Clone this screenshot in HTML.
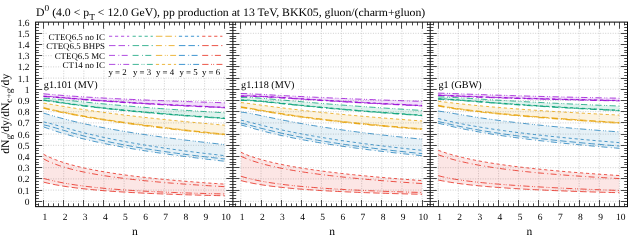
<!DOCTYPE html>
<html><head><meta charset="utf-8"><title>D0 gluon fraction</title>
<style>html,body{margin:0;padding:0;background:#fff}svg{display:block;will-change:transform;-webkit-font-smoothing:antialiased;text-rendering:geometricPrecision}text{font-family:"Liberation Serif",serif;fill:#000}</style></head><body>
<svg width="640" height="240" viewBox="0 0 640 240">
<rect x="0" y="0" width="640" height="240" fill="#ffffff"/>
<g stroke="#bababa" stroke-width="0.7" stroke-dasharray="1 1.5" fill="none">
<path d="M35.6 201.3H232.9"/>
<path d="M35.6 190.1H232.9"/>
<path d="M35.6 178.9H232.9"/>
<path d="M35.6 167.7H232.9"/>
<path d="M35.6 156.5H232.9"/>
<path d="M35.6 145.3H232.9"/>
<path d="M35.6 134.1H232.9"/>
<path d="M35.6 122.9H232.9"/>
<path d="M35.6 111.7H232.9"/>
<path d="M35.6 100.5H232.9"/>
<path d="M35.6 89.3H232.9"/>
<path d="M35.6 78.1H232.9"/>
<path d="M35.6 66.9H232.9"/>
<path d="M35.6 55.7H232.9"/>
<path d="M35.6 44.5H232.9"/>
<path d="M35.6 33.3H232.9"/>
<path d="M43.6 206.65V22.1"/>
<path d="M63.73 206.65V22.1"/>
<path d="M83.86 206.65V22.1"/>
<path d="M103.99 206.65V22.1"/>
<path d="M124.12 206.65V22.1"/>
<path d="M144.25 206.65V22.1"/>
<path d="M164.38 206.65V22.1"/>
<path d="M184.51 206.65V22.1"/>
<path d="M204.64 206.65V22.1"/>
<path d="M224.77 206.65V22.1"/>
<path d="M232.9 201.3H430.2"/>
<path d="M232.9 190.1H430.2"/>
<path d="M232.9 178.9H430.2"/>
<path d="M232.9 167.7H430.2"/>
<path d="M232.9 156.5H430.2"/>
<path d="M232.9 145.3H430.2"/>
<path d="M232.9 134.1H430.2"/>
<path d="M232.9 122.9H430.2"/>
<path d="M232.9 111.7H430.2"/>
<path d="M232.9 100.5H430.2"/>
<path d="M232.9 89.3H430.2"/>
<path d="M232.9 78.1H430.2"/>
<path d="M232.9 66.9H430.2"/>
<path d="M232.9 55.7H430.2"/>
<path d="M232.9 44.5H430.2"/>
<path d="M232.9 33.3H430.2"/>
<path d="M240.9 206.65V22.1"/>
<path d="M261.03 206.65V22.1"/>
<path d="M281.16 206.65V22.1"/>
<path d="M301.29 206.65V22.1"/>
<path d="M321.42 206.65V22.1"/>
<path d="M341.55 206.65V22.1"/>
<path d="M361.68 206.65V22.1"/>
<path d="M381.81 206.65V22.1"/>
<path d="M401.94 206.65V22.1"/>
<path d="M422.07 206.65V22.1"/>
<path d="M430.2 201.3H627.5"/>
<path d="M430.2 190.1H627.5"/>
<path d="M430.2 178.9H627.5"/>
<path d="M430.2 167.7H627.5"/>
<path d="M430.2 156.5H627.5"/>
<path d="M430.2 145.3H627.5"/>
<path d="M430.2 134.1H627.5"/>
<path d="M430.2 122.9H627.5"/>
<path d="M430.2 111.7H627.5"/>
<path d="M430.2 100.5H627.5"/>
<path d="M430.2 89.3H627.5"/>
<path d="M430.2 78.1H627.5"/>
<path d="M430.2 66.9H627.5"/>
<path d="M430.2 55.7H627.5"/>
<path d="M430.2 44.5H627.5"/>
<path d="M430.2 33.3H627.5"/>
<path d="M438.2 206.65V22.1"/>
<path d="M458.33 206.65V22.1"/>
<path d="M478.46 206.65V22.1"/>
<path d="M498.59 206.65V22.1"/>
<path d="M518.72 206.65V22.1"/>
<path d="M538.85 206.65V22.1"/>
<path d="M558.98 206.65V22.1"/>
<path d="M579.11 206.65V22.1"/>
<path d="M599.24 206.65V22.1"/>
<path d="M619.37 206.65V22.1"/>
</g>
<g fill="#ffffff" stroke="none">
<rect x="47.3" y="31.2" width="184.2" height="10"/>
<rect x="45" y="41" width="186.5" height="9.6"/>
<rect x="53" y="50.4" width="178.5" height="9.8"/>
<rect x="61" y="60" width="170.5" height="9.3"/>
<rect x="107.3" y="69.1" width="115.2" height="8.1"/>
<rect x="43" y="80" width="56" height="12.3"/>
<rect x="240.3" y="80" width="56" height="12.3"/>
<rect x="437.6" y="80" width="44" height="12.3"/>
</g>
<polygon points="43.6,93.79 47.63,94.16 51.65,94.51 55.68,94.85 59.7,95.18 63.73,95.5 67.76,95.8 71.78,96.09 75.81,96.37 79.83,96.64 83.86,96.9 87.89,97.15 91.91,97.39 95.94,97.62 99.96,97.85 103.99,98.07 108.02,98.28 112.04,98.49 116.07,98.69 120.09,98.88 124.12,99.07 128.15,99.26 132.17,99.44 136.2,99.62 140.22,99.79 144.25,99.96 148.28,100.13 152.3,100.29 156.33,100.45 160.35,100.61 164.38,100.76 168.41,100.91 172.43,101.06 176.46,101.21 180.48,101.35 184.51,101.49 188.54,101.63 192.56,101.76 196.59,101.9 200.61,102.03 204.64,102.16 208.67,102.28 212.69,102.41 216.72,102.53 220.74,102.65 224.77,102.77 224.77,107.82 220.74,107.64 216.72,107.46 212.69,107.28 208.67,107.1 204.64,106.92 200.61,106.73 196.59,106.54 192.56,106.34 188.54,106.15 184.51,105.95 180.48,105.75 176.46,105.54 172.43,105.34 168.41,105.12 164.38,104.91 160.35,104.69 156.33,104.47 152.3,104.25 148.28,104.02 144.25,103.79 140.22,103.55 136.2,103.31 132.17,103.07 128.15,102.82 124.12,102.56 120.09,102.31 116.07,102.04 112.04,101.77 108.02,101.5 103.99,101.22 99.96,100.94 95.94,100.64 91.91,100.35 87.89,100.05 83.86,99.74 79.83,99.42 75.81,99.11 71.78,98.78 67.76,98.46 63.73,98.13 59.7,97.8 55.68,97.48 51.65,97.18 47.63,96.9 43.6,96.67" fill="#9400d3" fill-opacity="0.12" stroke="none"/>
<polygon points="43.6,98.26 47.63,98.48 51.65,98.79 55.68,99.15 59.7,99.53 63.73,99.94 67.76,100.35 71.78,100.76 75.81,101.18 79.83,101.59 83.86,101.99 87.89,102.39 91.91,102.79 95.94,103.18 99.96,103.56 103.99,103.93 108.02,104.3 112.04,104.67 116.07,105.02 120.09,105.37 124.12,105.72 128.15,106.05 132.17,106.39 136.2,106.71 140.22,107.03 144.25,107.35 148.28,107.66 152.3,107.97 156.33,108.27 160.35,108.56 164.38,108.86 168.41,109.14 172.43,109.43 176.46,109.71 180.48,109.98 184.51,110.26 188.54,110.52 192.56,110.79 196.59,111.05 200.61,111.31 204.64,111.56 208.67,111.81 212.69,112.06 216.72,112.3 220.74,112.55 224.77,112.78 224.77,118.63 220.74,118.36 216.72,118.09 212.69,117.82 208.67,117.54 204.64,117.26 200.61,116.97 196.59,116.68 192.56,116.39 188.54,116.09 184.51,115.79 180.48,115.48 176.46,115.17 172.43,114.85 168.41,114.53 164.38,114.2 160.35,113.86 156.33,113.52 152.3,113.18 148.28,112.83 144.25,112.47 140.22,112.1 136.2,111.73 132.17,111.35 128.15,110.96 124.12,110.56 120.09,110.16 116.07,109.74 112.04,109.32 108.02,108.89 103.99,108.44 99.96,107.99 95.94,107.52 91.91,107.05 87.89,106.56 83.86,106.05 79.83,105.54 75.81,105.01 71.78,104.47 67.76,103.91 63.73,103.34 59.7,102.76 55.68,102.18 51.65,101.59 47.63,101.02 43.6,100.49" fill="#009e73" fill-opacity="0.12" stroke="none"/>
<polygon points="43.6,103.09 47.63,103.75 51.65,104.42 55.68,105.11 59.7,105.78 63.73,106.45 67.76,107.11 71.78,107.76 75.81,108.39 79.83,109 83.86,109.61 87.89,110.2 91.91,110.78 95.94,111.35 99.96,111.9 103.99,112.44 108.02,112.98 112.04,113.5 116.07,114.01 120.09,114.52 124.12,115.01 128.15,115.49 132.17,115.97 136.2,116.44 140.22,116.9 144.25,117.35 148.28,117.8 152.3,118.24 156.33,118.67 160.35,119.1 164.38,119.52 168.41,119.93 172.43,120.34 176.46,120.74 180.48,121.14 184.51,121.53 188.54,121.92 192.56,122.3 196.59,122.68 200.61,123.05 204.64,123.42 208.67,123.78 212.69,124.14 216.72,124.5 220.74,124.85 224.77,125.19 224.77,134.89 220.74,134.49 216.72,134.08 212.69,133.67 208.67,133.25 204.64,132.83 200.61,132.4 196.59,131.97 192.56,131.54 188.54,131.09 184.51,130.65 180.48,130.19 176.46,129.73 172.43,129.27 168.41,128.79 164.38,128.31 160.35,127.83 156.33,127.33 152.3,126.83 148.28,126.33 144.25,125.81 140.22,125.28 136.2,124.75 132.17,124.21 128.15,123.65 124.12,123.09 120.09,122.52 116.07,121.93 112.04,121.34 108.02,120.73 103.99,120.11 99.96,119.47 95.94,118.82 91.91,118.16 87.89,117.48 83.86,116.78 79.83,116.06 75.81,115.32 71.78,114.55 67.76,113.77 63.73,112.95 59.7,112.11 55.68,111.23 51.65,110.31 47.63,109.35 43.6,108.34" fill="#e69f00" fill-opacity="0.12" stroke="none"/>
<polygon points="43.6,113.13 47.63,114.32 51.65,115.5 55.68,116.65 59.7,117.76 63.73,118.84 67.76,119.87 71.78,120.87 75.81,121.84 79.83,122.77 83.86,123.67 87.89,124.55 91.91,125.39 95.94,126.21 99.96,127.01 103.99,127.78 108.02,128.53 112.04,129.26 116.07,129.97 120.09,130.67 124.12,131.35 128.15,132.01 132.17,132.66 136.2,133.29 140.22,133.91 144.25,134.51 148.28,135.11 152.3,135.69 156.33,136.26 160.35,136.82 164.38,137.37 168.41,137.91 172.43,138.43 176.46,138.95 180.48,139.47 184.51,139.97 188.54,140.46 192.56,140.95 196.59,141.43 200.61,141.9 204.64,142.36 208.67,142.82 212.69,143.27 216.72,143.71 220.74,144.15 224.77,144.58 224.77,161.27 220.74,160.82 216.72,160.37 212.69,159.9 208.67,159.43 204.64,158.96 200.61,158.47 196.59,157.98 192.56,157.48 188.54,156.97 184.51,156.45 180.48,155.93 176.46,155.39 172.43,154.84 168.41,154.29 164.38,153.72 160.35,153.14 156.33,152.55 152.3,151.95 148.28,151.33 144.25,150.7 140.22,150.06 136.2,149.4 132.17,148.73 128.15,148.03 124.12,147.33 120.09,146.6 116.07,145.85 112.04,145.08 108.02,144.3 103.99,143.48 99.96,142.64 95.94,141.78 91.91,140.88 87.89,139.96 83.86,139 79.83,138.01 75.81,136.97 71.78,135.9 67.76,134.78 63.73,133.61 59.7,132.39 55.68,131.11 51.65,129.78 47.63,128.39 43.6,126.96" fill="#167ab8" fill-opacity="0.105" stroke="none"/>
<polygon points="43.6,154.36 47.63,156.38 51.65,158.18 55.68,159.79 59.7,161.25 63.73,162.59 67.76,163.82 71.78,164.95 75.81,166.01 79.83,166.99 83.86,167.92 87.89,168.79 91.91,169.6 95.94,170.38 99.96,171.11 103.99,171.81 108.02,172.48 112.04,173.11 116.07,173.72 120.09,174.3 124.12,174.86 128.15,175.39 132.17,175.91 136.2,176.4 140.22,176.88 144.25,177.34 148.28,177.78 152.3,178.21 156.33,178.63 160.35,179.03 164.38,179.42 168.41,179.79 172.43,180.16 176.46,180.52 180.48,180.86 184.51,181.2 188.54,181.53 192.56,181.84 196.59,182.15 200.61,182.46 204.64,182.75 208.67,183.04 212.69,183.32 216.72,183.59 220.74,183.86 224.77,184.12 224.77,195.77 220.74,195.68 216.72,195.59 212.69,195.5 208.67,195.4 204.64,195.3 200.61,195.19 196.59,195.08 192.56,194.97 188.54,194.85 184.51,194.73 180.48,194.6 176.46,194.46 172.43,194.33 168.41,194.18 164.38,194.03 160.35,193.87 156.33,193.71 152.3,193.54 148.28,193.36 144.25,193.17 140.22,192.97 136.2,192.77 132.17,192.55 128.15,192.33 124.12,192.09 120.09,191.84 116.07,191.58 112.04,191.3 108.02,191.01 103.99,190.7 99.96,190.37 95.94,190.02 91.91,189.65 87.89,189.26 83.86,188.83 79.83,188.38 75.81,187.9 71.78,187.38 67.76,186.81 63.73,186.2 59.7,185.53 55.68,184.81 51.65,184.01 47.63,183.13 43.6,182.17" fill="#e51e10" fill-opacity="0.11" stroke="none"/>
<g stroke="#9400d3" stroke-width="0.75" fill="none">
<polyline points="43.6,93.79 47.63,94.16 51.65,94.51 55.68,94.85 59.7,95.18 63.73,95.5 67.76,95.8 71.78,96.09 75.81,96.37 79.83,96.64 83.86,96.9 87.89,97.15 91.91,97.39 95.94,97.62 99.96,97.85 103.99,98.07 108.02,98.28 112.04,98.49 116.07,98.69 120.09,98.88 124.12,99.07 128.15,99.26 132.17,99.44 136.2,99.62 140.22,99.79 144.25,99.96 148.28,100.13 152.3,100.29 156.33,100.45 160.35,100.61 164.38,100.76 168.41,100.91 172.43,101.06 176.46,101.21 180.48,101.35 184.51,101.49 188.54,101.63 192.56,101.76 196.59,101.9 200.61,102.03 204.64,102.16 208.67,102.28 212.69,102.41 216.72,102.53 220.74,102.65 224.77,102.77" stroke-dasharray="6.3 2.6 0.9 1.2 0.9 2.4"/>
<polyline points="43.6,96.11 47.63,96.34 51.65,96.62 55.68,96.92 59.7,97.24 63.73,97.57 67.76,97.9 71.78,98.22 75.81,98.55 79.83,98.86 83.86,99.18 87.89,99.49 91.91,99.79 95.94,100.08 99.96,100.38 103.99,100.66 108.02,100.94 112.04,101.21 116.07,101.48 120.09,101.75 124.12,102 128.15,102.26 132.17,102.51 136.2,102.75 140.22,102.99 144.25,103.23 148.28,103.46 152.3,103.69 156.33,103.91 160.35,104.13 164.38,104.35 168.41,104.56 172.43,104.78 176.46,104.98 180.48,105.19 184.51,105.39 188.54,105.59 192.56,105.78 196.59,105.98 200.61,106.17 204.64,106.36 208.67,106.54 212.69,106.72 216.72,106.9 220.74,107.08 224.77,107.26" stroke-dasharray="3.2 2.8"/>
<polyline points="43.6,96.39 47.63,96.62 51.65,96.9 55.68,97.2 59.7,97.52 63.73,97.85 67.76,98.18 71.78,98.5 75.81,98.83 79.83,99.14 83.86,99.46 87.89,99.77 91.91,100.07 95.94,100.36 99.96,100.66 103.99,100.94 108.02,101.22 112.04,101.49 116.07,101.76 120.09,102.03 124.12,102.28 128.15,102.54 132.17,102.79 136.2,103.03 140.22,103.27 144.25,103.51 148.28,103.74 152.3,103.97 156.33,104.19 160.35,104.41 164.38,104.63 168.41,104.84 172.43,105.06 176.46,105.26 180.48,105.47 184.51,105.67 188.54,105.87 192.56,106.06 196.59,106.26 200.61,106.45 204.64,106.64 208.67,106.82 212.69,107 216.72,107.18 220.74,107.36 224.77,107.54" stroke-dasharray="6.5 3"/>
<polyline points="43.6,96.67 47.63,96.9 51.65,97.18 55.68,97.48 59.7,97.8 63.73,98.13 67.76,98.46 71.78,98.78 75.81,99.11 79.83,99.42 83.86,99.74 87.89,100.05 91.91,100.35 95.94,100.64 99.96,100.94 103.99,101.22 108.02,101.5 112.04,101.77 116.07,102.04 120.09,102.31 124.12,102.56 128.15,102.82 132.17,103.07 136.2,103.31 140.22,103.55 144.25,103.79 148.28,104.02 152.3,104.25 156.33,104.47 160.35,104.69 164.38,104.91 168.41,105.12 172.43,105.34 176.46,105.54 180.48,105.75 184.51,105.95 188.54,106.15 192.56,106.34 196.59,106.54 200.61,106.73 204.64,106.92 208.67,107.1 212.69,107.28 216.72,107.46 220.74,107.64 224.77,107.82" stroke-dasharray="6 3.4 0.9 2.4"/>
</g>
<g stroke="#009e73" stroke-width="0.75" fill="none">
<polyline points="43.6,98.26 47.63,98.48 51.65,98.79 55.68,99.15 59.7,99.53 63.73,99.94 67.76,100.35 71.78,100.76 75.81,101.18 79.83,101.59 83.86,101.99 87.89,102.39 91.91,102.79 95.94,103.18 99.96,103.56 103.99,103.93 108.02,104.3 112.04,104.67 116.07,105.02 120.09,105.37 124.12,105.72 128.15,106.05 132.17,106.39 136.2,106.71 140.22,107.03 144.25,107.35 148.28,107.66 152.3,107.97 156.33,108.27 160.35,108.56 164.38,108.86 168.41,109.14 172.43,109.43 176.46,109.71 180.48,109.98 184.51,110.26 188.54,110.52 192.56,110.79 196.59,111.05 200.61,111.31 204.64,111.56 208.67,111.81 212.69,112.06 216.72,112.3 220.74,112.55 224.77,112.78" stroke-dasharray="6.3 2.6 0.9 1.2 0.9 2.4"/>
<polyline points="43.6,99.93 47.63,100.46 51.65,101.03 55.68,101.62 59.7,102.2 63.73,102.78 67.76,103.35 71.78,103.91 75.81,104.45 79.83,104.98 83.86,105.49 87.89,106 91.91,106.49 95.94,106.96 99.96,107.43 103.99,107.88 108.02,108.33 112.04,108.76 116.07,109.18 120.09,109.6 124.12,110 128.15,110.4 132.17,110.79 136.2,111.17 140.22,111.54 144.25,111.91 148.28,112.27 152.3,112.62 156.33,112.96 160.35,113.3 164.38,113.64 168.41,113.97 172.43,114.29 176.46,114.61 180.48,114.92 184.51,115.23 188.54,115.53 192.56,115.83 196.59,116.12 200.61,116.41 204.64,116.7 208.67,116.98 212.69,117.26 216.72,117.53 220.74,117.8 224.77,118.07" stroke-dasharray="3.2 2.8"/>
<polyline points="43.6,100.21 47.63,100.74 51.65,101.31 55.68,101.9 59.7,102.48 63.73,103.06 67.76,103.63 71.78,104.19 75.81,104.73 79.83,105.26 83.86,105.77 87.89,106.28 91.91,106.77 95.94,107.24 99.96,107.71 103.99,108.16 108.02,108.61 112.04,109.04 116.07,109.46 120.09,109.88 124.12,110.28 128.15,110.68 132.17,111.07 136.2,111.45 140.22,111.82 144.25,112.19 148.28,112.55 152.3,112.9 156.33,113.24 160.35,113.58 164.38,113.92 168.41,114.25 172.43,114.57 176.46,114.89 180.48,115.2 184.51,115.51 188.54,115.81 192.56,116.11 196.59,116.4 200.61,116.69 204.64,116.98 208.67,117.26 212.69,117.54 216.72,117.81 220.74,118.08 224.77,118.35" stroke-dasharray="6.5 3"/>
<polyline points="43.6,100.49 47.63,101.02 51.65,101.59 55.68,102.18 59.7,102.76 63.73,103.34 67.76,103.91 71.78,104.47 75.81,105.01 79.83,105.54 83.86,106.05 87.89,106.56 91.91,107.05 95.94,107.52 99.96,107.99 103.99,108.44 108.02,108.89 112.04,109.32 116.07,109.74 120.09,110.16 124.12,110.56 128.15,110.96 132.17,111.35 136.2,111.73 140.22,112.1 144.25,112.47 148.28,112.83 152.3,113.18 156.33,113.52 160.35,113.86 164.38,114.2 168.41,114.53 172.43,114.85 176.46,115.17 180.48,115.48 184.51,115.79 188.54,116.09 192.56,116.39 196.59,116.68 200.61,116.97 204.64,117.26 208.67,117.54 212.69,117.82 216.72,118.09 220.74,118.36 224.77,118.63" stroke-dasharray="6 3.4 0.9 2.4"/>
</g>
<g stroke="#e69f00" stroke-width="0.75" fill="none">
<polyline points="43.6,103.09 47.63,103.75 51.65,104.42 55.68,105.11 59.7,105.78 63.73,106.45 67.76,107.11 71.78,107.76 75.81,108.39 79.83,109 83.86,109.61 87.89,110.2 91.91,110.78 95.94,111.35 99.96,111.9 103.99,112.44 108.02,112.98 112.04,113.5 116.07,114.01 120.09,114.52 124.12,115.01 128.15,115.49 132.17,115.97 136.2,116.44 140.22,116.9 144.25,117.35 148.28,117.8 152.3,118.24 156.33,118.67 160.35,119.1 164.38,119.52 168.41,119.93 172.43,120.34 176.46,120.74 180.48,121.14 184.51,121.53 188.54,121.92 192.56,122.3 196.59,122.68 200.61,123.05 204.64,123.42 208.67,123.78 212.69,124.14 216.72,124.5 220.74,124.85 224.77,125.19" stroke-dasharray="3.2 2.8"/>
<polyline points="43.6,107.55 47.63,108.57 51.65,109.53 55.68,110.45 59.7,111.32 63.73,112.17 67.76,112.98 71.78,113.77 75.81,114.53 79.83,115.27 83.86,115.99 87.89,116.69 91.91,117.37 95.94,118.04 99.96,118.69 103.99,119.33 108.02,119.95 112.04,120.55 116.07,121.15 120.09,121.73 124.12,122.31 128.15,122.87 132.17,123.42 136.2,123.97 140.22,124.5 144.25,125.02 148.28,125.54 152.3,126.05 156.33,126.55 160.35,127.04 164.38,127.53 168.41,128.01 172.43,128.48 176.46,128.95 180.48,129.41 184.51,129.86 188.54,130.31 192.56,130.75 196.59,131.19 200.61,131.62 204.64,132.05 208.67,132.47 212.69,132.89 216.72,133.3 220.74,133.71 224.77,134.11" stroke-dasharray="6.5 3"/>
<polyline points="43.6,107.95 47.63,108.96 51.65,109.92 55.68,110.84 59.7,111.72 63.73,112.56 67.76,113.37 71.78,114.16 75.81,114.92 79.83,115.66 83.86,116.38 87.89,117.08 91.91,117.77 95.94,118.43 99.96,119.08 103.99,119.72 108.02,120.34 112.04,120.95 116.07,121.54 120.09,122.13 124.12,122.7 128.15,123.26 132.17,123.82 136.2,124.36 140.22,124.89 144.25,125.42 148.28,125.93 152.3,126.44 156.33,126.94 160.35,127.44 164.38,127.92 168.41,128.4 172.43,128.87 176.46,129.34 180.48,129.8 184.51,130.25 188.54,130.7 192.56,131.14 196.59,131.58 200.61,132.01 204.64,132.44 208.67,132.86 212.69,133.28 216.72,133.69 220.74,134.1 224.77,134.5" stroke-dasharray="6 3.4 0.9 2.4"/>
<polyline points="43.6,108.34 47.63,109.35 51.65,110.31 55.68,111.23 59.7,112.11 63.73,112.95 67.76,113.77 71.78,114.55 75.81,115.32 79.83,116.06 83.86,116.78 87.89,117.48 91.91,118.16 95.94,118.82 99.96,119.47 103.99,120.11 108.02,120.73 112.04,121.34 116.07,121.93 120.09,122.52 124.12,123.09 128.15,123.65 132.17,124.21 136.2,124.75 140.22,125.28 144.25,125.81 148.28,126.33 152.3,126.83 156.33,127.33 160.35,127.83 164.38,128.31 168.41,128.79 172.43,129.27 176.46,129.73 180.48,130.19 184.51,130.65 188.54,131.09 192.56,131.54 196.59,131.97 200.61,132.4 204.64,132.83 208.67,133.25 212.69,133.67 216.72,134.08 220.74,134.49 224.77,134.89" stroke-dasharray="6.3 2.6 0.9 1.2 0.9 2.4"/>
</g>
<g stroke="#167ab8" stroke-width="0.75" fill="none">
<polyline points="43.6,113.13 47.63,114.32 51.65,115.5 55.68,116.65 59.7,117.76 63.73,118.84 67.76,119.87 71.78,120.87 75.81,121.84 79.83,122.77 83.86,123.67 87.89,124.55 91.91,125.39 95.94,126.21 99.96,127.01 103.99,127.78 108.02,128.53 112.04,129.26 116.07,129.97 120.09,130.67 124.12,131.35 128.15,132.01 132.17,132.66 136.2,133.29 140.22,133.91 144.25,134.51 148.28,135.11 152.3,135.69 156.33,136.26 160.35,136.82 164.38,137.37 168.41,137.91 172.43,138.43 176.46,138.95 180.48,139.47 184.51,139.97 188.54,140.46 192.56,140.95 196.59,141.43 200.61,141.9 204.64,142.36 208.67,142.82 212.69,143.27 216.72,143.71 220.74,144.15 224.77,144.58" stroke-dasharray="6.3 2.6 0.9 1.2 0.9 2.4"/>
<polyline points="43.6,121.92 47.63,122.81 51.65,123.88 55.68,125.01 59.7,126.18 63.73,127.33 67.76,128.47 71.78,129.59 75.81,130.68 79.83,131.73 83.86,132.76 87.89,133.75 91.91,134.71 95.94,135.65 99.96,136.55 103.99,137.43 108.02,138.28 112.04,139.11 116.07,139.91 120.09,140.69 124.12,141.45 128.15,142.19 132.17,142.91 136.2,143.61 140.22,144.3 144.25,144.96 148.28,145.62 152.3,146.25 156.33,146.87 160.35,147.48 164.38,148.07 168.41,148.65 172.43,149.22 176.46,149.77 180.48,150.32 184.51,150.85 188.54,151.37 192.56,151.89 196.59,152.39 200.61,152.88 204.64,153.36 208.67,153.84 212.69,154.31 216.72,154.76 220.74,155.21 224.77,155.66" stroke-dasharray="3.2 2.8"/>
<polyline points="43.6,124.85 47.63,125.71 51.65,126.78 55.68,127.95 59.7,129.15 63.73,130.35 67.76,131.54 71.78,132.7 75.81,133.82 79.83,134.92 83.86,135.98 87.89,137.01 91.91,138 95.94,138.96 99.96,139.89 103.99,140.79 108.02,141.67 112.04,142.51 116.07,143.33 120.09,144.12 124.12,144.89 128.15,145.64 132.17,146.37 136.2,147.08 140.22,147.77 144.25,148.44 148.28,149.09 152.3,149.72 156.33,150.34 160.35,150.95 164.38,151.54 168.41,152.11 172.43,152.67 176.46,153.22 180.48,153.76 184.51,154.28 188.54,154.8 192.56,155.3 196.59,155.79 200.61,156.27 204.64,156.74 208.67,157.21 212.69,157.66 216.72,158.1 220.74,158.54 224.77,158.97" stroke-dasharray="6.5 3"/>
<polyline points="43.6,126.96 47.63,128.39 51.65,129.78 55.68,131.11 59.7,132.39 63.73,133.61 67.76,134.78 71.78,135.9 75.81,136.97 79.83,138.01 83.86,139 87.89,139.96 91.91,140.88 95.94,141.78 99.96,142.64 103.99,143.48 108.02,144.3 112.04,145.08 116.07,145.85 120.09,146.6 124.12,147.33 128.15,148.03 132.17,148.73 136.2,149.4 140.22,150.06 144.25,150.7 148.28,151.33 152.3,151.95 156.33,152.55 160.35,153.14 164.38,153.72 168.41,154.29 172.43,154.84 176.46,155.39 180.48,155.93 184.51,156.45 188.54,156.97 192.56,157.48 196.59,157.98 200.61,158.47 204.64,158.96 208.67,159.43 212.69,159.9 216.72,160.37 220.74,160.82 224.77,161.27" stroke-dasharray="6 3.4 0.9 2.4"/>
</g>
<g stroke="#e51e10" stroke-width="0.75" fill="none">
<polyline points="43.6,154.36 47.63,156.38 51.65,158.18 55.68,159.79 59.7,161.25 63.73,162.59 67.76,163.82 71.78,164.95 75.81,166.01 79.83,166.99 83.86,167.92 87.89,168.79 91.91,169.6 95.94,170.38 99.96,171.11 103.99,171.81 108.02,172.48 112.04,173.11 116.07,173.72 120.09,174.3 124.12,174.86 128.15,175.39 132.17,175.91 136.2,176.4 140.22,176.88 144.25,177.34 148.28,177.78 152.3,178.21 156.33,178.63 160.35,179.03 164.38,179.42 168.41,179.79 172.43,180.16 176.46,180.52 180.48,180.86 184.51,181.2 188.54,181.53 192.56,181.84 196.59,182.15 200.61,182.46 204.64,182.75 208.67,183.04 212.69,183.32 216.72,183.59 220.74,183.86 224.77,184.12" stroke-dasharray="3.2 2.8"/>
<polyline points="43.6,158.95 47.63,160.98 51.65,162.75 55.68,164.33 59.7,165.74 63.73,167.02 67.76,168.19 71.78,169.27 75.81,170.26 79.83,171.18 83.86,172.05 87.89,172.85 91.91,173.61 95.94,174.33 99.96,175.01 103.99,175.65 108.02,176.26 112.04,176.84 116.07,177.39 120.09,177.92 124.12,178.42 128.15,178.91 132.17,179.37 136.2,179.82 140.22,180.25 144.25,180.66 148.28,181.06 152.3,181.45 156.33,181.82 160.35,182.18 164.38,182.52 168.41,182.86 172.43,183.19 176.46,183.5 180.48,183.81 184.51,184.11 188.54,184.4 192.56,184.68 196.59,184.95 200.61,185.22 204.64,185.47 208.67,185.73 212.69,185.97 216.72,186.21 220.74,186.45 224.77,186.67" stroke-dasharray="6 3.4 0.9 2.4"/>
<polyline points="43.6,178.48 47.63,179.51 51.65,180.49 55.68,181.39 59.7,182.23 63.73,183 67.76,183.71 71.78,184.37 75.81,184.99 79.83,185.56 83.86,186.09 87.89,186.59 91.91,187.05 95.94,187.49 99.96,187.9 103.99,188.28 108.02,188.65 112.04,188.99 116.07,189.31 120.09,189.62 124.12,189.91 128.15,190.18 132.17,190.44 136.2,190.69 140.22,190.92 144.25,191.15 148.28,191.36 152.3,191.56 156.33,191.75 160.35,191.94 164.38,192.11 168.41,192.28 172.43,192.44 176.46,192.59 180.48,192.74 184.51,192.88 188.54,193.01 192.56,193.14 196.59,193.26 200.61,193.37 204.64,193.48 208.67,193.59 212.69,193.69 216.72,193.79 220.74,193.88 224.77,193.97" stroke-dasharray="6.3 2.6 0.9 1.2 0.9 2.4"/>
<polyline points="43.6,182.17 47.63,183.13 51.65,184.01 55.68,184.81 59.7,185.53 63.73,186.2 67.76,186.81 71.78,187.38 75.81,187.9 79.83,188.38 83.86,188.83 87.89,189.26 91.91,189.65 95.94,190.02 99.96,190.37 103.99,190.7 108.02,191.01 112.04,191.3 116.07,191.58 120.09,191.84 124.12,192.09 128.15,192.33 132.17,192.55 136.2,192.77 140.22,192.97 144.25,193.17 148.28,193.36 152.3,193.54 156.33,193.71 160.35,193.87 164.38,194.03 168.41,194.18 172.43,194.33 176.46,194.46 180.48,194.6 184.51,194.73 188.54,194.85 192.56,194.97 196.59,195.08 200.61,195.19 204.64,195.3 208.67,195.4 212.69,195.5 216.72,195.59 220.74,195.68 224.77,195.77" stroke-dasharray="6.5 3"/>
</g>
<polygon points="240.9,93.49 244.93,93.6 248.95,93.77 252.98,93.96 257,94.17 261.03,94.39 265.06,94.61 269.08,94.83 273.11,95.06 277.13,95.28 281.16,95.5 285.19,95.72 289.21,95.93 293.24,96.14 297.26,96.35 301.29,96.55 305.32,96.75 309.34,96.95 313.37,97.14 317.39,97.33 321.42,97.52 325.45,97.7 329.47,97.88 333.5,98.06 337.52,98.24 341.55,98.41 345.58,98.58 349.6,98.74 353.63,98.91 357.65,99.07 361.68,99.23 365.71,99.38 369.73,99.54 373.76,99.69 377.78,99.84 381.81,99.99 385.84,100.13 389.86,100.28 393.89,100.42 397.91,100.56 401.94,100.7 405.97,100.83 409.99,100.97 414.02,101.1 418.04,101.23 422.07,101.36 422.07,105.97 418.04,105.78 414.02,105.59 409.99,105.39 405.97,105.2 401.94,105 397.91,104.8 393.89,104.59 389.86,104.39 385.84,104.18 381.81,103.97 377.78,103.76 373.76,103.55 369.73,103.33 365.71,103.11 361.68,102.89 357.65,102.67 353.63,102.44 349.6,102.21 345.58,101.98 341.55,101.74 337.52,101.5 333.5,101.26 329.47,101.02 325.45,100.77 321.42,100.53 317.39,100.27 313.37,100.02 309.34,99.77 305.32,99.51 301.29,99.25 297.26,98.99 293.24,98.72 289.21,98.46 285.19,98.2 281.16,97.94 277.13,97.68 273.11,97.43 269.08,97.19 265.06,96.96 261.03,96.75 257,96.56 252.98,96.41 248.95,96.33 244.93,96.33 240.9,96.47" fill="#9400d3" fill-opacity="0.12" stroke="none"/>
<polygon points="240.9,97.47 244.93,97.41 248.95,97.51 252.98,97.7 257,97.95 261.03,98.24 265.06,98.56 269.08,98.89 273.11,99.24 277.13,99.59 281.16,99.95 285.19,100.3 289.21,100.66 293.24,101.01 297.26,101.37 301.29,101.71 305.32,102.06 309.34,102.4 313.37,102.74 317.39,103.08 321.42,103.41 325.45,103.73 329.47,104.06 333.5,104.37 337.52,104.69 341.55,105 345.58,105.3 349.6,105.6 353.63,105.9 357.65,106.2 361.68,106.49 365.71,106.77 369.73,107.06 373.76,107.34 377.78,107.61 381.81,107.89 385.84,108.15 389.86,108.42 393.89,108.68 397.91,108.94 401.94,109.2 405.97,109.46 409.99,109.71 414.02,109.96 418.04,110.2 422.07,110.45 422.07,115.7 418.04,115.43 414.02,115.15 409.99,114.87 405.97,114.58 401.94,114.29 397.91,114 393.89,113.71 389.86,113.41 385.84,113.11 381.81,112.8 377.78,112.49 373.76,112.18 369.73,111.86 365.71,111.54 361.68,111.21 357.65,110.88 353.63,110.55 349.6,110.21 345.58,109.86 341.55,109.52 337.52,109.16 333.5,108.8 329.47,108.44 325.45,108.07 321.42,107.69 317.39,107.32 313.37,106.93 309.34,106.54 305.32,106.15 301.29,105.74 297.26,105.34 293.24,104.93 289.21,104.52 285.19,104.1 281.16,103.68 277.13,103.26 273.11,102.84 269.08,102.43 265.06,102.03 261.03,101.64 257,101.27 252.98,100.94 248.95,100.67 244.93,100.5 240.9,100.48" fill="#009e73" fill-opacity="0.12" stroke="none"/>
<polygon points="240.9,102.53 244.93,102.99 248.95,103.5 252.98,104.04 257,104.58 261.03,105.13 265.06,105.67 269.08,106.21 273.11,106.74 277.13,107.26 281.16,107.76 285.19,108.26 289.21,108.75 293.24,109.24 297.26,109.71 301.29,110.17 305.32,110.62 309.34,111.07 313.37,111.5 317.39,111.93 321.42,112.35 325.45,112.76 329.47,113.17 333.5,113.57 337.52,113.96 341.55,114.35 345.58,114.72 349.6,115.1 353.63,115.47 357.65,115.83 361.68,116.19 365.71,116.54 369.73,116.88 373.76,117.22 377.78,117.56 381.81,117.89 385.84,118.22 389.86,118.55 393.89,118.86 397.91,119.18 401.94,119.49 405.97,119.8 409.99,120.1 414.02,120.4 418.04,120.7 422.07,120.99 422.07,129.56 418.04,129.24 414.02,128.92 409.99,128.59 405.97,128.26 401.94,127.92 397.91,127.58 393.89,127.23 389.86,126.88 385.84,126.52 381.81,126.16 377.78,125.79 373.76,125.41 369.73,125.03 365.71,124.64 361.68,124.24 357.65,123.84 353.63,123.43 349.6,123.01 345.58,122.58 341.55,122.14 337.52,121.7 333.5,121.24 329.47,120.78 325.45,120.31 321.42,119.82 317.39,119.33 313.37,118.82 309.34,118.3 305.32,117.77 301.29,117.22 297.26,116.66 293.24,116.09 289.21,115.5 285.19,114.9 281.16,114.28 277.13,113.64 273.11,112.99 269.08,112.32 265.06,111.64 261.03,110.94 257,110.24 252.98,109.53 248.95,108.83 244.93,108.17 240.9,107.58" fill="#e69f00" fill-opacity="0.12" stroke="none"/>
<polygon points="240.9,112.07 244.93,112.53 248.95,113.19 252.98,113.95 257,114.77 261.03,115.61 265.06,116.46 269.08,117.3 273.11,118.14 277.13,118.96 281.16,119.77 285.19,120.55 289.21,121.33 293.24,122.08 297.26,122.81 301.29,123.53 305.32,124.23 309.34,124.91 313.37,125.58 317.39,126.23 321.42,126.86 325.45,127.48 329.47,128.09 333.5,128.68 337.52,129.26 341.55,129.83 345.58,130.39 349.6,130.93 353.63,131.47 357.65,131.99 361.68,132.5 365.71,133.01 369.73,133.5 373.76,133.99 377.78,134.46 381.81,134.93 385.84,135.39 389.86,135.84 393.89,136.28 397.91,136.72 401.94,137.15 405.97,137.57 409.99,137.99 414.02,138.39 418.04,138.8 422.07,139.19 422.07,155.68 418.04,155.28 414.02,154.87 409.99,154.45 405.97,154.03 401.94,153.6 397.91,153.17 393.89,152.73 389.86,152.28 385.84,151.82 381.81,151.35 377.78,150.87 373.76,150.39 369.73,149.89 365.71,149.39 361.68,148.87 357.65,148.35 353.63,147.81 349.6,147.26 345.58,146.7 341.55,146.13 337.52,145.54 333.5,144.94 329.47,144.33 325.45,143.7 321.42,143.05 317.39,142.38 313.37,141.7 309.34,141 305.32,140.28 301.29,139.53 297.26,138.76 293.24,137.97 289.21,137.15 285.19,136.31 281.16,135.43 277.13,134.53 273.11,133.59 269.08,132.62 265.06,131.61 261.03,130.56 257,129.48 252.98,128.36 248.95,127.22 244.93,126.06 240.9,124.93" fill="#167ab8" fill-opacity="0.105" stroke="none"/>
<polygon points="240.9,152.28 244.93,154.05 248.95,155.64 252.98,157.06 257,158.36 261.03,159.55 265.06,160.65 269.08,161.68 273.11,162.64 277.13,163.54 281.16,164.39 285.19,165.19 289.21,165.95 293.24,166.68 297.26,167.37 301.29,168.04 305.32,168.67 309.34,169.28 313.37,169.87 317.39,170.43 321.42,170.98 325.45,171.5 329.47,172.01 333.5,172.5 337.52,172.98 341.55,173.44 345.58,173.89 349.6,174.33 353.63,174.75 357.65,175.16 361.68,175.57 365.71,175.96 369.73,176.34 373.76,176.71 377.78,177.08 381.81,177.43 385.84,177.78 389.86,178.12 393.89,178.45 397.91,178.78 401.94,179.1 405.97,179.41 409.99,179.72 414.02,180.02 418.04,180.31 422.07,180.6 422.07,194.29 418.04,194.2 414.02,194.11 409.99,194.01 405.97,193.91 401.94,193.8 397.91,193.69 393.89,193.58 389.86,193.46 385.84,193.34 381.81,193.21 377.78,193.08 373.76,192.95 369.73,192.81 365.71,192.66 361.68,192.51 357.65,192.35 353.63,192.18 349.6,192.01 345.58,191.83 341.55,191.64 337.52,191.45 333.5,191.24 329.47,191.03 325.45,190.8 321.42,190.57 317.39,190.32 313.37,190.06 309.34,189.78 305.32,189.49 301.29,189.19 297.26,188.86 293.24,188.52 289.21,188.15 285.19,187.76 281.16,187.35 277.13,186.9 273.11,186.42 269.08,185.9 265.06,185.34 261.03,184.73 257,184.06 252.98,183.32 248.95,182.5 244.93,181.6 240.9,180.58" fill="#e51e10" fill-opacity="0.11" stroke="none"/>
<g stroke="#9400d3" stroke-width="0.75" fill="none">
<polyline points="240.9,93.49 244.93,93.6 248.95,93.77 252.98,93.96 257,94.17 261.03,94.39 265.06,94.61 269.08,94.83 273.11,95.06 277.13,95.28 281.16,95.5 285.19,95.72 289.21,95.93 293.24,96.14 297.26,96.35 301.29,96.55 305.32,96.75 309.34,96.95 313.37,97.14 317.39,97.33 321.42,97.52 325.45,97.7 329.47,97.88 333.5,98.06 337.52,98.24 341.55,98.41 345.58,98.58 349.6,98.74 353.63,98.91 357.65,99.07 361.68,99.23 365.71,99.38 369.73,99.54 373.76,99.69 377.78,99.84 381.81,99.99 385.84,100.13 389.86,100.28 393.89,100.42 397.91,100.56 401.94,100.7 405.97,100.83 409.99,100.97 414.02,101.1 418.04,101.23 422.07,101.36" stroke-dasharray="6.3 2.6 0.9 1.2 0.9 2.4"/>
<polyline points="240.9,95.91 244.93,95.77 248.95,95.77 252.98,95.85 257,96 261.03,96.19 265.06,96.4 269.08,96.63 273.11,96.87 277.13,97.12 281.16,97.38 285.19,97.64 289.21,97.9 293.24,98.16 297.26,98.43 301.29,98.69 305.32,98.95 309.34,99.21 313.37,99.46 317.39,99.71 321.42,99.97 325.45,100.21 329.47,100.46 333.5,100.7 337.52,100.94 341.55,101.18 345.58,101.42 349.6,101.65 353.63,101.88 357.65,102.11 361.68,102.33 365.71,102.55 369.73,102.77 373.76,102.99 377.78,103.2 381.81,103.41 385.84,103.62 389.86,103.83 393.89,104.03 397.91,104.24 401.94,104.44 405.97,104.64 409.99,104.83 414.02,105.03 418.04,105.22 422.07,105.41" stroke-dasharray="3.2 2.8"/>
<polyline points="240.9,96.19 244.93,96.05 248.95,96.05 252.98,96.13 257,96.28 261.03,96.47 265.06,96.68 269.08,96.91 273.11,97.15 277.13,97.4 281.16,97.66 285.19,97.92 289.21,98.18 293.24,98.44 297.26,98.71 301.29,98.97 305.32,99.23 309.34,99.49 313.37,99.74 317.39,99.99 321.42,100.25 325.45,100.49 329.47,100.74 333.5,100.98 337.52,101.22 341.55,101.46 345.58,101.7 349.6,101.93 353.63,102.16 357.65,102.39 361.68,102.61 365.71,102.83 369.73,103.05 373.76,103.27 377.78,103.48 381.81,103.69 385.84,103.9 389.86,104.11 393.89,104.31 397.91,104.52 401.94,104.72 405.97,104.92 409.99,105.11 414.02,105.31 418.04,105.5 422.07,105.69" stroke-dasharray="6.5 3"/>
<polyline points="240.9,96.47 244.93,96.33 248.95,96.33 252.98,96.41 257,96.56 261.03,96.75 265.06,96.96 269.08,97.19 273.11,97.43 277.13,97.68 281.16,97.94 285.19,98.2 289.21,98.46 293.24,98.72 297.26,98.99 301.29,99.25 305.32,99.51 309.34,99.77 313.37,100.02 317.39,100.27 321.42,100.53 325.45,100.77 329.47,101.02 333.5,101.26 337.52,101.5 341.55,101.74 345.58,101.98 349.6,102.21 353.63,102.44 357.65,102.67 361.68,102.89 365.71,103.11 369.73,103.33 373.76,103.55 377.78,103.76 381.81,103.97 385.84,104.18 389.86,104.39 393.89,104.59 397.91,104.8 401.94,105 405.97,105.2 409.99,105.39 414.02,105.59 418.04,105.78 422.07,105.97" stroke-dasharray="6 3.4 0.9 2.4"/>
</g>
<g stroke="#009e73" stroke-width="0.75" fill="none">
<polyline points="240.9,97.47 244.93,97.41 248.95,97.51 252.98,97.7 257,97.95 261.03,98.24 265.06,98.56 269.08,98.89 273.11,99.24 277.13,99.59 281.16,99.95 285.19,100.3 289.21,100.66 293.24,101.01 297.26,101.37 301.29,101.71 305.32,102.06 309.34,102.4 313.37,102.74 317.39,103.08 321.42,103.41 325.45,103.73 329.47,104.06 333.5,104.37 337.52,104.69 341.55,105 345.58,105.3 349.6,105.6 353.63,105.9 357.65,106.2 361.68,106.49 365.71,106.77 369.73,107.06 373.76,107.34 377.78,107.61 381.81,107.89 385.84,108.15 389.86,108.42 393.89,108.68 397.91,108.94 401.94,109.2 405.97,109.46 409.99,109.71 414.02,109.96 418.04,110.2 422.07,110.45" stroke-dasharray="6.3 2.6 0.9 1.2 0.9 2.4"/>
<polyline points="240.9,99.92 244.93,99.94 248.95,100.11 252.98,100.38 257,100.71 261.03,101.08 265.06,101.47 269.08,101.87 273.11,102.28 277.13,102.7 281.16,103.12 285.19,103.54 289.21,103.96 293.24,104.37 297.26,104.78 301.29,105.18 305.32,105.59 309.34,105.98 313.37,106.37 317.39,106.76 321.42,107.13 325.45,107.51 329.47,107.88 333.5,108.24 337.52,108.6 341.55,108.96 345.58,109.3 349.6,109.65 353.63,109.99 357.65,110.32 361.68,110.65 365.71,110.98 369.73,111.3 373.76,111.62 377.78,111.93 381.81,112.24 385.84,112.55 389.86,112.85 393.89,113.15 397.91,113.44 401.94,113.73 405.97,114.02 409.99,114.31 414.02,114.59 418.04,114.87 422.07,115.14" stroke-dasharray="3.2 2.8"/>
<polyline points="240.9,100.2 244.93,100.22 248.95,100.39 252.98,100.66 257,100.99 261.03,101.36 265.06,101.75 269.08,102.15 273.11,102.56 277.13,102.98 281.16,103.4 285.19,103.82 289.21,104.24 293.24,104.65 297.26,105.06 301.29,105.46 305.32,105.87 309.34,106.26 313.37,106.65 317.39,107.04 321.42,107.41 325.45,107.79 329.47,108.16 333.5,108.52 337.52,108.88 341.55,109.24 345.58,109.58 349.6,109.93 353.63,110.27 357.65,110.6 361.68,110.93 365.71,111.26 369.73,111.58 373.76,111.9 377.78,112.21 381.81,112.52 385.84,112.83 389.86,113.13 393.89,113.43 397.91,113.72 401.94,114.01 405.97,114.3 409.99,114.59 414.02,114.87 418.04,115.15 422.07,115.42" stroke-dasharray="6.5 3"/>
<polyline points="240.9,100.48 244.93,100.5 248.95,100.67 252.98,100.94 257,101.27 261.03,101.64 265.06,102.03 269.08,102.43 273.11,102.84 277.13,103.26 281.16,103.68 285.19,104.1 289.21,104.52 293.24,104.93 297.26,105.34 301.29,105.74 305.32,106.15 309.34,106.54 313.37,106.93 317.39,107.32 321.42,107.69 325.45,108.07 329.47,108.44 333.5,108.8 337.52,109.16 341.55,109.52 345.58,109.86 349.6,110.21 353.63,110.55 357.65,110.88 361.68,111.21 365.71,111.54 369.73,111.86 373.76,112.18 377.78,112.49 381.81,112.8 385.84,113.11 389.86,113.41 393.89,113.71 397.91,114 401.94,114.29 405.97,114.58 409.99,114.87 414.02,115.15 418.04,115.43 422.07,115.7" stroke-dasharray="6 3.4 0.9 2.4"/>
</g>
<g stroke="#e69f00" stroke-width="0.75" fill="none">
<polyline points="240.9,102.53 244.93,102.99 248.95,103.5 252.98,104.04 257,104.58 261.03,105.13 265.06,105.67 269.08,106.21 273.11,106.74 277.13,107.26 281.16,107.76 285.19,108.26 289.21,108.75 293.24,109.24 297.26,109.71 301.29,110.17 305.32,110.62 309.34,111.07 313.37,111.5 317.39,111.93 321.42,112.35 325.45,112.76 329.47,113.17 333.5,113.57 337.52,113.96 341.55,114.35 345.58,114.72 349.6,115.1 353.63,115.47 357.65,115.83 361.68,116.19 365.71,116.54 369.73,116.88 373.76,117.22 377.78,117.56 381.81,117.89 385.84,118.22 389.86,118.55 393.89,118.86 397.91,119.18 401.94,119.49 405.97,119.8 409.99,120.1 414.02,120.4 418.04,120.7 422.07,120.99" stroke-dasharray="3.2 2.8"/>
<polyline points="240.9,106.8 244.93,107.39 248.95,108.05 252.98,108.75 257,109.45 261.03,110.16 265.06,110.86 269.08,111.54 273.11,112.21 277.13,112.86 281.16,113.49 285.19,114.11 289.21,114.72 293.24,115.31 297.26,115.88 301.29,116.44 305.32,116.98 309.34,117.52 313.37,118.03 317.39,118.54 321.42,119.04 325.45,119.52 329.47,120 333.5,120.46 337.52,120.92 341.55,121.36 345.58,121.8 349.6,122.22 353.63,122.64 357.65,123.06 361.68,123.46 365.71,123.86 369.73,124.25 373.76,124.63 377.78,125.01 381.81,125.38 385.84,125.74 389.86,126.1 393.89,126.45 397.91,126.8 401.94,127.14 405.97,127.48 409.99,127.81 414.02,128.13 418.04,128.46 422.07,128.77" stroke-dasharray="6.5 3"/>
<polyline points="240.9,107.19 244.93,107.78 248.95,108.44 252.98,109.14 257,109.85 261.03,110.55 265.06,111.25 269.08,111.93 273.11,112.6 277.13,113.25 281.16,113.89 285.19,114.51 289.21,115.11 293.24,115.7 297.26,116.27 301.29,116.83 305.32,117.38 309.34,117.91 313.37,118.43 317.39,118.93 321.42,119.43 325.45,119.91 329.47,120.39 333.5,120.85 337.52,121.31 341.55,121.75 345.58,122.19 349.6,122.62 353.63,123.04 357.65,123.45 361.68,123.85 365.71,124.25 369.73,124.64 373.76,125.02 377.78,125.4 381.81,125.77 385.84,126.13 389.86,126.49 393.89,126.84 397.91,127.19 401.94,127.53 405.97,127.87 409.99,128.2 414.02,128.53 418.04,128.85 422.07,129.17" stroke-dasharray="6 3.4 0.9 2.4"/>
<polyline points="240.9,107.58 244.93,108.17 248.95,108.83 252.98,109.53 257,110.24 261.03,110.94 265.06,111.64 269.08,112.32 273.11,112.99 277.13,113.64 281.16,114.28 285.19,114.9 289.21,115.5 293.24,116.09 297.26,116.66 301.29,117.22 305.32,117.77 309.34,118.3 313.37,118.82 317.39,119.33 321.42,119.82 325.45,120.31 329.47,120.78 333.5,121.24 337.52,121.7 341.55,122.14 345.58,122.58 349.6,123.01 353.63,123.43 357.65,123.84 361.68,124.24 365.71,124.64 369.73,125.03 373.76,125.41 377.78,125.79 381.81,126.16 385.84,126.52 389.86,126.88 393.89,127.23 397.91,127.58 401.94,127.92 405.97,128.26 409.99,128.59 414.02,128.92 418.04,129.24 422.07,129.56" stroke-dasharray="6.3 2.6 0.9 1.2 0.9 2.4"/>
</g>
<g stroke="#167ab8" stroke-width="0.75" fill="none">
<polyline points="240.9,112.07 244.93,112.53 248.95,113.19 252.98,113.95 257,114.77 261.03,115.61 265.06,116.46 269.08,117.3 273.11,118.14 277.13,118.96 281.16,119.77 285.19,120.55 289.21,121.33 293.24,122.08 297.26,122.81 301.29,123.53 305.32,124.23 309.34,124.91 313.37,125.58 317.39,126.23 321.42,126.86 325.45,127.48 329.47,128.09 333.5,128.68 337.52,129.26 341.55,129.83 345.58,130.39 349.6,130.93 353.63,131.47 357.65,131.99 361.68,132.5 365.71,133.01 369.73,133.5 373.76,133.99 377.78,134.46 381.81,134.93 385.84,135.39 389.86,135.84 393.89,136.28 397.91,136.72 401.94,137.15 405.97,137.57 409.99,137.99 414.02,138.39 418.04,138.8 422.07,139.19" stroke-dasharray="6.3 2.6 0.9 1.2 0.9 2.4"/>
<polyline points="240.9,120.15 244.93,121.05 248.95,122.05 252.98,123.07 257,124.1 261.03,125.11 265.06,126.1 269.08,127.07 273.11,128.01 277.13,128.93 281.16,129.81 285.19,130.68 289.21,131.51 293.24,132.32 297.26,133.11 301.29,133.88 305.32,134.62 309.34,135.35 313.37,136.05 317.39,136.74 321.42,137.41 325.45,138.07 329.47,138.7 333.5,139.33 337.52,139.94 341.55,140.54 345.58,141.12 349.6,141.69 353.63,142.25 357.65,142.8 361.68,143.33 365.71,143.86 369.73,144.38 373.76,144.88 377.78,145.38 381.81,145.87 385.84,146.35 389.86,146.82 393.89,147.28 397.91,147.74 401.94,148.18 405.97,148.63 409.99,149.06 414.02,149.49 418.04,149.91 422.07,150.32" stroke-dasharray="3.2 2.8"/>
<polyline points="240.9,123.05 244.93,123.99 248.95,125.03 252.98,126.1 257,127.17 261.03,128.23 265.06,129.26 269.08,130.26 273.11,131.24 277.13,132.18 281.16,133.09 285.19,133.98 289.21,134.83 293.24,135.66 297.26,136.47 301.29,137.25 305.32,138 309.34,138.74 313.37,139.46 317.39,140.15 321.42,140.83 325.45,141.49 329.47,142.13 333.5,142.76 337.52,143.37 341.55,143.97 345.58,144.55 349.6,145.12 353.63,145.68 357.65,146.23 361.68,146.76 365.71,147.28 369.73,147.79 373.76,148.3 377.78,148.79 381.81,149.27 385.84,149.74 389.86,150.21 393.89,150.66 397.91,151.11 401.94,151.55 405.97,151.99 409.99,152.41 414.02,152.83 418.04,153.24 422.07,153.64" stroke-dasharray="6.5 3"/>
<polyline points="240.9,124.93 244.93,126.06 248.95,127.22 252.98,128.36 257,129.48 261.03,130.56 265.06,131.61 269.08,132.62 273.11,133.59 277.13,134.53 281.16,135.43 285.19,136.31 289.21,137.15 293.24,137.97 297.26,138.76 301.29,139.53 305.32,140.28 309.34,141 313.37,141.7 317.39,142.38 321.42,143.05 325.45,143.7 329.47,144.33 333.5,144.94 337.52,145.54 341.55,146.13 345.58,146.7 349.6,147.26 353.63,147.81 357.65,148.35 361.68,148.87 365.71,149.39 369.73,149.89 373.76,150.39 377.78,150.87 381.81,151.35 385.84,151.82 389.86,152.28 393.89,152.73 397.91,153.17 401.94,153.6 405.97,154.03 409.99,154.45 414.02,154.87 418.04,155.28 422.07,155.68" stroke-dasharray="6 3.4 0.9 2.4"/>
</g>
<g stroke="#e51e10" stroke-width="0.75" fill="none">
<polyline points="240.9,152.28 244.93,154.05 248.95,155.64 252.98,157.06 257,158.36 261.03,159.55 265.06,160.65 269.08,161.68 273.11,162.64 277.13,163.54 281.16,164.39 285.19,165.19 289.21,165.95 293.24,166.68 297.26,167.37 301.29,168.04 305.32,168.67 309.34,169.28 313.37,169.87 317.39,170.43 321.42,170.98 325.45,171.5 329.47,172.01 333.5,172.5 337.52,172.98 341.55,173.44 345.58,173.89 349.6,174.33 353.63,174.75 357.65,175.16 361.68,175.57 365.71,175.96 369.73,176.34 373.76,176.71 377.78,177.08 381.81,177.43 385.84,177.78 389.86,178.12 393.89,178.45 397.91,178.78 401.94,179.1 405.97,179.41 409.99,179.72 414.02,180.02 418.04,180.31 422.07,180.6" stroke-dasharray="3.2 2.8"/>
<polyline points="240.9,156.28 244.93,158.04 248.95,159.61 252.98,161.01 257,162.29 261.03,163.47 265.06,164.55 269.08,165.56 273.11,166.5 277.13,167.38 281.16,168.2 285.19,168.99 289.21,169.73 293.24,170.43 297.26,171.1 301.29,171.74 305.32,172.35 309.34,172.94 313.37,173.5 317.39,174.04 321.42,174.56 325.45,175.06 329.47,175.54 333.5,176.01 337.52,176.46 341.55,176.9 345.58,177.32 349.6,177.73 353.63,178.13 357.65,178.52 361.68,178.9 365.71,179.26 369.73,179.62 373.76,179.97 377.78,180.31 381.81,180.64 385.84,180.96 389.86,181.27 393.89,181.58 397.91,181.88 401.94,182.18 405.97,182.46 409.99,182.75 414.02,183.02 418.04,183.29 422.07,183.56" stroke-dasharray="6 3.4 0.9 2.4"/>
<polyline points="240.9,176.23 244.93,177.44 248.95,178.51 252.98,179.47 257,180.34 261.03,181.14 265.06,181.86 269.08,182.53 273.11,183.14 277.13,183.71 281.16,184.24 285.19,184.74 289.21,185.2 293.24,185.63 297.26,186.04 301.29,186.43 305.32,186.79 309.34,187.13 313.37,187.46 317.39,187.77 321.42,188.07 325.45,188.35 329.47,188.61 333.5,188.87 337.52,189.11 341.55,189.34 345.58,189.57 349.6,189.78 353.63,189.99 357.65,190.18 361.68,190.37 365.71,190.55 369.73,190.73 373.76,190.89 377.78,191.06 381.81,191.21 385.84,191.36 389.86,191.5 393.89,191.64 397.91,191.78 401.94,191.91 405.97,192.03 409.99,192.16 414.02,192.27 418.04,192.39 422.07,192.49" stroke-dasharray="6.3 2.6 0.9 1.2 0.9 2.4"/>
<polyline points="240.9,180.58 244.93,181.6 248.95,182.5 252.98,183.32 257,184.06 261.03,184.73 265.06,185.34 269.08,185.9 273.11,186.42 277.13,186.9 281.16,187.35 285.19,187.76 289.21,188.15 293.24,188.52 297.26,188.86 301.29,189.19 305.32,189.49 309.34,189.78 313.37,190.06 317.39,190.32 321.42,190.57 325.45,190.8 329.47,191.03 333.5,191.24 337.52,191.45 341.55,191.64 345.58,191.83 349.6,192.01 353.63,192.18 357.65,192.35 361.68,192.51 365.71,192.66 369.73,192.81 373.76,192.95 377.78,193.08 381.81,193.21 385.84,193.34 389.86,193.46 393.89,193.58 397.91,193.69 401.94,193.8 405.97,193.91 409.99,194.01 414.02,194.11 418.04,194.2 422.07,194.29" stroke-dasharray="6.5 3"/>
</g>
<polygon points="438.2,93.1 442.23,93.21 446.25,93.34 450.28,93.48 454.3,93.63 458.33,93.78 462.36,93.93 466.38,94.08 470.41,94.23 474.43,94.38 478.46,94.52 482.49,94.66 486.51,94.8 490.54,94.94 494.56,95.07 498.59,95.2 502.62,95.33 506.64,95.45 510.67,95.58 514.69,95.7 518.72,95.82 522.75,95.93 526.77,96.05 530.8,96.16 534.82,96.27 538.85,96.38 542.88,96.48 546.9,96.59 550.93,96.69 554.95,96.79 558.98,96.89 563.01,96.99 567.03,97.08 571.06,97.18 575.08,97.27 579.11,97.36 583.14,97.46 587.16,97.54 591.19,97.63 595.21,97.72 599.24,97.81 603.27,97.89 607.29,97.97 611.32,98.06 615.34,98.14 619.37,98.22 619.37,100.94 615.34,100.86 611.32,100.78 607.29,100.7 603.27,100.62 599.24,100.53 595.21,100.45 591.19,100.36 587.16,100.28 583.14,100.19 579.11,100.1 575.08,100.01 571.06,99.91 567.03,99.82 563.01,99.72 558.98,99.63 554.95,99.53 550.93,99.43 546.9,99.32 542.88,99.22 538.85,99.11 534.82,99.01 530.8,98.9 526.77,98.78 522.75,98.67 518.72,98.55 514.69,98.43 510.67,98.31 506.64,98.18 502.62,98.05 498.59,97.92 494.56,97.79 490.54,97.65 486.51,97.51 482.49,97.36 478.46,97.21 474.43,97.06 470.41,96.9 466.38,96.74 462.36,96.58 458.33,96.41 454.3,96.24 450.28,96.06 446.25,95.89 442.23,95.72 438.2,95.56" fill="#9400d3" fill-opacity="0.12" stroke="none"/>
<polygon points="438.2,96.91 442.23,96.97 446.25,97.1 450.28,97.29 454.3,97.5 458.33,97.74 462.36,97.98 466.38,98.23 470.41,98.48 474.43,98.73 478.46,98.99 482.49,99.24 486.51,99.49 490.54,99.73 494.56,99.98 498.59,100.22 502.62,100.45 506.64,100.69 510.67,100.92 514.69,101.14 518.72,101.37 522.75,101.59 526.77,101.8 530.8,102.02 534.82,102.23 538.85,102.44 542.88,102.64 546.9,102.84 550.93,103.04 554.95,103.23 558.98,103.43 563.01,103.62 567.03,103.81 571.06,103.99 575.08,104.17 579.11,104.35 583.14,104.53 587.16,104.71 591.19,104.88 595.21,105.05 599.24,105.22 603.27,105.39 607.29,105.55 611.32,105.72 615.34,105.88 619.37,106.04 619.37,110.77 615.34,110.57 611.32,110.37 607.29,110.17 603.27,109.96 599.24,109.75 595.21,109.54 591.19,109.33 587.16,109.11 583.14,108.89 579.11,108.67 575.08,108.45 571.06,108.22 567.03,107.99 563.01,107.75 558.98,107.52 554.95,107.27 550.93,107.03 546.9,106.78 542.88,106.53 538.85,106.28 534.82,106.02 530.8,105.75 526.77,105.49 522.75,105.21 518.72,104.94 514.69,104.66 510.67,104.37 506.64,104.09 502.62,103.79 498.59,103.5 494.56,103.19 490.54,102.89 486.51,102.58 482.49,102.26 478.46,101.95 474.43,101.63 470.41,101.31 466.38,100.99 462.36,100.67 458.33,100.36 454.3,100.06 450.28,99.78 446.25,99.54 442.23,99.35 438.2,99.26" fill="#009e73" fill-opacity="0.12" stroke="none"/>
<polygon points="438.2,101.26 442.23,101.73 446.25,102.21 450.28,102.68 454.3,103.15 458.33,103.6 462.36,104.04 466.38,104.47 470.41,104.89 474.43,105.29 478.46,105.68 482.49,106.06 486.51,106.43 490.54,106.79 494.56,107.15 498.59,107.49 502.62,107.82 506.64,108.15 510.67,108.46 514.69,108.77 518.72,109.08 522.75,109.38 526.77,109.67 530.8,109.95 534.82,110.23 538.85,110.5 542.88,110.77 546.9,111.03 550.93,111.29 554.95,111.55 558.98,111.8 563.01,112.04 567.03,112.28 571.06,112.52 575.08,112.75 579.11,112.98 583.14,113.21 587.16,113.43 591.19,113.65 595.21,113.87 599.24,114.08 603.27,114.29 607.29,114.5 611.32,114.7 615.34,114.9 619.37,115.1 619.37,123.28 615.34,123.03 611.32,122.77 607.29,122.51 603.27,122.25 599.24,121.99 595.21,121.72 591.19,121.46 587.16,121.18 583.14,120.91 579.11,120.63 575.08,120.34 571.06,120.06 567.03,119.77 563.01,119.47 558.98,119.17 554.95,118.87 550.93,118.56 546.9,118.25 542.88,117.93 538.85,117.61 534.82,117.28 530.8,116.95 526.77,116.61 522.75,116.26 518.72,115.91 514.69,115.55 510.67,115.19 506.64,114.81 502.62,114.43 498.59,114.04 494.56,113.64 490.54,113.22 486.51,112.8 482.49,112.37 478.46,111.92 474.43,111.45 470.41,110.97 466.38,110.47 462.36,109.95 458.33,109.41 454.3,108.83 450.28,108.22 446.25,107.57 442.23,106.85 438.2,106.06" fill="#e69f00" fill-opacity="0.12" stroke="none"/>
<polygon points="438.2,111.05 442.23,111.59 446.25,112.23 450.28,112.91 454.3,113.6 458.33,114.29 462.36,114.97 466.38,115.64 470.41,116.29 474.43,116.93 478.46,117.55 482.49,118.15 486.51,118.73 490.54,119.3 494.56,119.85 498.59,120.39 502.62,120.91 506.64,121.42 510.67,121.91 514.69,122.4 518.72,122.87 522.75,123.33 526.77,123.78 530.8,124.21 534.82,124.64 538.85,125.06 542.88,125.47 546.9,125.87 550.93,126.26 554.95,126.65 558.98,127.02 563.01,127.39 567.03,127.75 571.06,128.11 575.08,128.45 579.11,128.8 583.14,129.13 587.16,129.46 591.19,129.78 595.21,130.1 599.24,130.41 603.27,130.72 607.29,131.03 611.32,131.32 615.34,131.62 619.37,131.9 619.37,148.32 615.34,148 611.32,147.66 607.29,147.32 603.27,146.98 599.24,146.63 595.21,146.27 591.19,145.91 587.16,145.54 583.14,145.17 579.11,144.78 575.08,144.4 571.06,144 567.03,143.6 563.01,143.19 558.98,142.77 554.95,142.34 550.93,141.9 546.9,141.46 542.88,141 538.85,140.54 534.82,140.06 530.8,139.57 526.77,139.07 522.75,138.56 518.72,138.04 514.69,137.5 510.67,136.95 506.64,136.38 502.62,135.79 498.59,135.19 494.56,134.57 490.54,133.93 486.51,133.27 482.49,132.58 478.46,131.88 474.43,131.14 470.41,130.38 466.38,129.59 462.36,128.77 458.33,127.92 454.3,127.04 450.28,126.12 446.25,125.17 442.23,124.21 438.2,123.24" fill="#167ab8" fill-opacity="0.105" stroke="none"/>
<polygon points="438.2,150.25 442.23,151.71 446.25,153.05 450.28,154.28 454.3,155.42 458.33,156.48 462.36,157.46 466.38,158.39 470.41,159.26 474.43,160.08 478.46,160.85 482.49,161.58 486.51,162.28 490.54,162.95 494.56,163.58 498.59,164.19 502.62,164.77 506.64,165.33 510.67,165.87 514.69,166.38 518.72,166.88 522.75,167.36 526.77,167.82 530.8,168.27 534.82,168.71 538.85,169.13 542.88,169.53 546.9,169.93 550.93,170.31 554.95,170.69 558.98,171.05 563.01,171.4 567.03,171.75 571.06,172.08 575.08,172.41 579.11,172.73 583.14,173.04 587.16,173.35 591.19,173.64 595.21,173.93 599.24,174.22 603.27,174.5 607.29,174.77 611.32,175.03 615.34,175.29 619.37,175.55 619.37,192.72 615.34,192.61 611.32,192.5 607.29,192.39 603.27,192.28 599.24,192.16 595.21,192.04 591.19,191.92 587.16,191.79 583.14,191.66 579.11,191.52 575.08,191.38 571.06,191.23 567.03,191.08 563.01,190.93 558.98,190.77 554.95,190.61 550.93,190.43 546.9,190.26 542.88,190.07 538.85,189.88 534.82,189.69 530.8,189.48 526.77,189.27 522.75,189.04 518.72,188.81 514.69,188.57 510.67,188.32 506.64,188.05 502.62,187.77 498.59,187.48 494.56,187.17 490.54,186.85 486.51,186.51 482.49,186.15 478.46,185.77 474.43,185.36 470.41,184.93 466.38,184.47 462.36,183.97 458.33,183.44 454.3,182.87 450.28,182.24 446.25,181.57 442.23,180.83 438.2,180.02" fill="#e51e10" fill-opacity="0.11" stroke="none"/>
<g stroke="#9400d3" stroke-width="0.75" fill="none">
<polyline points="438.2,93.1 442.23,93.21 446.25,93.34 450.28,93.48 454.3,93.63 458.33,93.78 462.36,93.93 466.38,94.08 470.41,94.23 474.43,94.38 478.46,94.52 482.49,94.66 486.51,94.8 490.54,94.94 494.56,95.07 498.59,95.2 502.62,95.33 506.64,95.45 510.67,95.58 514.69,95.7 518.72,95.82 522.75,95.93 526.77,96.05 530.8,96.16 534.82,96.27 538.85,96.38 542.88,96.48 546.9,96.59 550.93,96.69 554.95,96.79 558.98,96.89 563.01,96.99 567.03,97.08 571.06,97.18 575.08,97.27 579.11,97.36 583.14,97.46 587.16,97.54 591.19,97.63 595.21,97.72 599.24,97.81 603.27,97.89 607.29,97.97 611.32,98.06 615.34,98.14 619.37,98.22" stroke-dasharray="6.3 2.6 0.9 1.2 0.9 2.4"/>
<polyline points="438.2,95 442.23,95.16 446.25,95.33 450.28,95.5 454.3,95.68 458.33,95.85 462.36,96.02 466.38,96.18 470.41,96.34 474.43,96.5 478.46,96.65 482.49,96.8 486.51,96.95 490.54,97.09 494.56,97.23 498.59,97.36 502.62,97.49 506.64,97.62 510.67,97.75 514.69,97.87 518.72,97.99 522.75,98.11 526.77,98.22 530.8,98.34 534.82,98.45 538.85,98.55 542.88,98.66 546.9,98.76 550.93,98.87 554.95,98.97 558.98,99.07 563.01,99.16 567.03,99.26 571.06,99.35 575.08,99.45 579.11,99.54 583.14,99.63 587.16,99.72 591.19,99.8 595.21,99.89 599.24,99.97 603.27,100.06 607.29,100.14 611.32,100.22 615.34,100.3 619.37,100.38" stroke-dasharray="3.2 2.8"/>
<polyline points="438.2,95.28 442.23,95.44 446.25,95.61 450.28,95.78 454.3,95.96 458.33,96.13 462.36,96.3 466.38,96.46 470.41,96.62 474.43,96.78 478.46,96.93 482.49,97.08 486.51,97.23 490.54,97.37 494.56,97.51 498.59,97.64 502.62,97.77 506.64,97.9 510.67,98.03 514.69,98.15 518.72,98.27 522.75,98.39 526.77,98.5 530.8,98.62 534.82,98.73 538.85,98.83 542.88,98.94 546.9,99.04 550.93,99.15 554.95,99.25 558.98,99.35 563.01,99.44 567.03,99.54 571.06,99.63 575.08,99.73 579.11,99.82 583.14,99.91 587.16,100 591.19,100.08 595.21,100.17 599.24,100.25 603.27,100.34 607.29,100.42 611.32,100.5 615.34,100.58 619.37,100.66" stroke-dasharray="6.5 3"/>
<polyline points="438.2,95.56 442.23,95.72 446.25,95.89 450.28,96.06 454.3,96.24 458.33,96.41 462.36,96.58 466.38,96.74 470.41,96.9 474.43,97.06 478.46,97.21 482.49,97.36 486.51,97.51 490.54,97.65 494.56,97.79 498.59,97.92 502.62,98.05 506.64,98.18 510.67,98.31 514.69,98.43 518.72,98.55 522.75,98.67 526.77,98.78 530.8,98.9 534.82,99.01 538.85,99.11 542.88,99.22 546.9,99.32 550.93,99.43 554.95,99.53 558.98,99.63 563.01,99.72 567.03,99.82 571.06,99.91 575.08,100.01 579.11,100.1 583.14,100.19 587.16,100.28 591.19,100.36 595.21,100.45 599.24,100.53 603.27,100.62 607.29,100.7 611.32,100.78 615.34,100.86 619.37,100.94" stroke-dasharray="6 3.4 0.9 2.4"/>
</g>
<g stroke="#009e73" stroke-width="0.75" fill="none">
<polyline points="438.2,96.91 442.23,96.97 446.25,97.1 450.28,97.29 454.3,97.5 458.33,97.74 462.36,97.98 466.38,98.23 470.41,98.48 474.43,98.73 478.46,98.99 482.49,99.24 486.51,99.49 490.54,99.73 494.56,99.98 498.59,100.22 502.62,100.45 506.64,100.69 510.67,100.92 514.69,101.14 518.72,101.37 522.75,101.59 526.77,101.8 530.8,102.02 534.82,102.23 538.85,102.44 542.88,102.64 546.9,102.84 550.93,103.04 554.95,103.23 558.98,103.43 563.01,103.62 567.03,103.81 571.06,103.99 575.08,104.17 579.11,104.35 583.14,104.53 587.16,104.71 591.19,104.88 595.21,105.05 599.24,105.22 603.27,105.39 607.29,105.55 611.32,105.72 615.34,105.88 619.37,106.04" stroke-dasharray="6.3 2.6 0.9 1.2 0.9 2.4"/>
<polyline points="438.2,98.7 442.23,98.79 446.25,98.98 450.28,99.22 454.3,99.5 458.33,99.8 462.36,100.11 466.38,100.43 470.41,100.75 474.43,101.07 478.46,101.39 482.49,101.7 486.51,102.02 490.54,102.33 494.56,102.63 498.59,102.94 502.62,103.23 506.64,103.53 510.67,103.81 514.69,104.1 518.72,104.38 522.75,104.65 526.77,104.93 530.8,105.19 534.82,105.46 538.85,105.72 542.88,105.97 546.9,106.22 550.93,106.47 554.95,106.71 558.98,106.96 563.01,107.19 567.03,107.43 571.06,107.66 575.08,107.89 579.11,108.11 583.14,108.33 587.16,108.55 591.19,108.77 595.21,108.98 599.24,109.19 603.27,109.4 607.29,109.61 611.32,109.81 615.34,110.01 619.37,110.21" stroke-dasharray="3.2 2.8"/>
<polyline points="438.2,98.98 442.23,99.07 446.25,99.26 450.28,99.5 454.3,99.78 458.33,100.08 462.36,100.39 466.38,100.71 470.41,101.03 474.43,101.35 478.46,101.67 482.49,101.98 486.51,102.3 490.54,102.61 494.56,102.91 498.59,103.22 502.62,103.51 506.64,103.81 510.67,104.09 514.69,104.38 518.72,104.66 522.75,104.93 526.77,105.21 530.8,105.47 534.82,105.74 538.85,106 542.88,106.25 546.9,106.5 550.93,106.75 554.95,106.99 558.98,107.24 563.01,107.47 567.03,107.71 571.06,107.94 575.08,108.17 579.11,108.39 583.14,108.61 587.16,108.83 591.19,109.05 595.21,109.26 599.24,109.47 603.27,109.68 607.29,109.89 611.32,110.09 615.34,110.29 619.37,110.49" stroke-dasharray="6.5 3"/>
<polyline points="438.2,99.26 442.23,99.35 446.25,99.54 450.28,99.78 454.3,100.06 458.33,100.36 462.36,100.67 466.38,100.99 470.41,101.31 474.43,101.63 478.46,101.95 482.49,102.26 486.51,102.58 490.54,102.89 494.56,103.19 498.59,103.5 502.62,103.79 506.64,104.09 510.67,104.37 514.69,104.66 518.72,104.94 522.75,105.21 526.77,105.49 530.8,105.75 534.82,106.02 538.85,106.28 542.88,106.53 546.9,106.78 550.93,107.03 554.95,107.27 558.98,107.52 563.01,107.75 567.03,107.99 571.06,108.22 575.08,108.45 579.11,108.67 583.14,108.89 587.16,109.11 591.19,109.33 595.21,109.54 599.24,109.75 603.27,109.96 607.29,110.17 611.32,110.37 615.34,110.57 619.37,110.77" stroke-dasharray="6 3.4 0.9 2.4"/>
</g>
<g stroke="#e69f00" stroke-width="0.75" fill="none">
<polyline points="438.2,101.26 442.23,101.73 446.25,102.21 450.28,102.68 454.3,103.15 458.33,103.6 462.36,104.04 466.38,104.47 470.41,104.89 474.43,105.29 478.46,105.68 482.49,106.06 486.51,106.43 490.54,106.79 494.56,107.15 498.59,107.49 502.62,107.82 506.64,108.15 510.67,108.46 514.69,108.77 518.72,109.08 522.75,109.38 526.77,109.67 530.8,109.95 534.82,110.23 538.85,110.5 542.88,110.77 546.9,111.03 550.93,111.29 554.95,111.55 558.98,111.8 563.01,112.04 567.03,112.28 571.06,112.52 575.08,112.75 579.11,112.98 583.14,113.21 587.16,113.43 591.19,113.65 595.21,113.87 599.24,114.08 603.27,114.29 607.29,114.5 611.32,114.7 615.34,114.9 619.37,115.1" stroke-dasharray="3.2 2.8"/>
<polyline points="438.2,105.27 442.23,106.07 446.25,106.78 450.28,107.44 454.3,108.05 458.33,108.62 462.36,109.17 466.38,109.69 470.41,110.19 474.43,110.67 478.46,111.13 482.49,111.58 486.51,112.02 490.54,112.44 494.56,112.85 498.59,113.25 502.62,113.64 506.64,114.03 510.67,114.4 514.69,114.77 518.72,115.13 522.75,115.48 526.77,115.83 530.8,116.17 534.82,116.5 538.85,116.83 542.88,117.15 546.9,117.47 550.93,117.78 554.95,118.09 558.98,118.39 563.01,118.69 567.03,118.98 571.06,119.27 575.08,119.56 579.11,119.84 583.14,120.12 587.16,120.4 591.19,120.67 595.21,120.94 599.24,121.21 603.27,121.47 607.29,121.73 611.32,121.99 615.34,122.24 619.37,122.49" stroke-dasharray="6.5 3"/>
<polyline points="438.2,105.66 442.23,106.46 446.25,107.17 450.28,107.83 454.3,108.44 458.33,109.01 462.36,109.56 466.38,110.08 470.41,110.58 474.43,111.06 478.46,111.52 482.49,111.97 486.51,112.41 490.54,112.83 494.56,113.24 498.59,113.64 502.62,114.04 506.64,114.42 510.67,114.79 514.69,115.16 518.72,115.52 522.75,115.87 526.77,116.22 530.8,116.56 534.82,116.89 538.85,117.22 542.88,117.54 546.9,117.86 550.93,118.17 554.95,118.48 558.98,118.78 563.01,119.08 567.03,119.37 571.06,119.67 575.08,119.95 579.11,120.24 583.14,120.51 587.16,120.79 591.19,121.06 595.21,121.33 599.24,121.6 603.27,121.86 607.29,122.12 611.32,122.38 615.34,122.63 619.37,122.89" stroke-dasharray="6 3.4 0.9 2.4"/>
<polyline points="438.2,106.06 442.23,106.85 446.25,107.57 450.28,108.22 454.3,108.83 458.33,109.41 462.36,109.95 466.38,110.47 470.41,110.97 474.43,111.45 478.46,111.92 482.49,112.37 486.51,112.8 490.54,113.22 494.56,113.64 498.59,114.04 502.62,114.43 506.64,114.81 510.67,115.19 514.69,115.55 518.72,115.91 522.75,116.26 526.77,116.61 530.8,116.95 534.82,117.28 538.85,117.61 542.88,117.93 546.9,118.25 550.93,118.56 554.95,118.87 558.98,119.17 563.01,119.47 567.03,119.77 571.06,120.06 575.08,120.34 579.11,120.63 583.14,120.91 587.16,121.18 591.19,121.46 595.21,121.72 599.24,121.99 603.27,122.25 607.29,122.51 611.32,122.77 615.34,123.03 619.37,123.28" stroke-dasharray="6.3 2.6 0.9 1.2 0.9 2.4"/>
</g>
<g stroke="#167ab8" stroke-width="0.75" fill="none">
<polyline points="438.2,111.05 442.23,111.59 446.25,112.23 450.28,112.91 454.3,113.6 458.33,114.29 462.36,114.97 466.38,115.64 470.41,116.29 474.43,116.93 478.46,117.55 482.49,118.15 486.51,118.73 490.54,119.3 494.56,119.85 498.59,120.39 502.62,120.91 506.64,121.42 510.67,121.91 514.69,122.4 518.72,122.87 522.75,123.33 526.77,123.78 530.8,124.21 534.82,124.64 538.85,125.06 542.88,125.47 546.9,125.87 550.93,126.26 554.95,126.65 558.98,127.02 563.01,127.39 567.03,127.75 571.06,128.11 575.08,128.45 579.11,128.8 583.14,129.13 587.16,129.46 591.19,129.78 595.21,130.1 599.24,130.41 603.27,130.72 607.29,131.03 611.32,131.32 615.34,131.62 619.37,131.9" stroke-dasharray="6.3 2.6 0.9 1.2 0.9 2.4"/>
<polyline points="438.2,118.52 442.23,119.55 446.25,120.52 450.28,121.45 454.3,122.33 458.33,123.17 462.36,123.97 466.38,124.73 470.41,125.47 474.43,126.18 478.46,126.86 482.49,127.52 486.51,128.16 490.54,128.78 494.56,129.38 498.59,129.96 502.62,130.52 506.64,131.07 510.67,131.61 514.69,132.13 518.72,132.64 522.75,133.13 526.77,133.62 530.8,134.1 534.82,134.56 538.85,135.02 542.88,135.46 546.9,135.9 550.93,136.33 554.95,136.75 558.98,137.16 563.01,137.57 567.03,137.97 571.06,138.36 575.08,138.74 579.11,139.12 583.14,139.5 587.16,139.86 591.19,140.22 595.21,140.58 599.24,140.93 603.27,141.28 607.29,141.62 611.32,141.96 615.34,142.29 619.37,142.62" stroke-dasharray="3.2 2.8"/>
<polyline points="438.2,121.49 442.23,122.44 446.25,123.39 450.28,124.33 454.3,125.23 458.33,126.1 462.36,126.94 466.38,127.75 470.41,128.53 474.43,129.27 478.46,129.99 482.49,130.69 486.51,131.36 490.54,132.01 494.56,132.64 498.59,133.24 502.62,133.83 506.64,134.41 510.67,134.96 514.69,135.5 518.72,136.03 522.75,136.54 526.77,137.04 530.8,137.53 534.82,138 538.85,138.47 542.88,138.92 546.9,139.36 550.93,139.8 554.95,140.22 558.98,140.64 563.01,141.05 567.03,141.45 571.06,141.84 575.08,142.22 579.11,142.6 583.14,142.97 587.16,143.33 591.19,143.69 595.21,144.04 599.24,144.39 603.27,144.73 607.29,145.06 611.32,145.39 615.34,145.71 619.37,146.03" stroke-dasharray="6.5 3"/>
<polyline points="438.2,123.24 442.23,124.21 446.25,125.17 450.28,126.12 454.3,127.04 458.33,127.92 462.36,128.77 466.38,129.59 470.41,130.38 474.43,131.14 478.46,131.88 482.49,132.58 486.51,133.27 490.54,133.93 494.56,134.57 498.59,135.19 502.62,135.79 506.64,136.38 510.67,136.95 514.69,137.5 518.72,138.04 522.75,138.56 526.77,139.07 530.8,139.57 534.82,140.06 538.85,140.54 542.88,141 546.9,141.46 550.93,141.9 554.95,142.34 558.98,142.77 563.01,143.19 567.03,143.6 571.06,144 575.08,144.4 579.11,144.78 583.14,145.17 587.16,145.54 591.19,145.91 595.21,146.27 599.24,146.63 603.27,146.98 607.29,147.32 611.32,147.66 615.34,148 619.37,148.32" stroke-dasharray="6 3.4 0.9 2.4"/>
</g>
<g stroke="#e51e10" stroke-width="0.75" fill="none">
<polyline points="438.2,150.25 442.23,151.71 446.25,153.05 450.28,154.28 454.3,155.42 458.33,156.48 462.36,157.46 466.38,158.39 470.41,159.26 474.43,160.08 478.46,160.85 482.49,161.58 486.51,162.28 490.54,162.95 494.56,163.58 498.59,164.19 502.62,164.77 506.64,165.33 510.67,165.87 514.69,166.38 518.72,166.88 522.75,167.36 526.77,167.82 530.8,168.27 534.82,168.71 538.85,169.13 542.88,169.53 546.9,169.93 550.93,170.31 554.95,170.69 558.98,171.05 563.01,171.4 567.03,171.75 571.06,172.08 575.08,172.41 579.11,172.73 583.14,173.04 587.16,173.35 591.19,173.64 595.21,173.93 599.24,174.22 603.27,174.5 607.29,174.77 611.32,175.03 615.34,175.29 619.37,175.55" stroke-dasharray="3.2 2.8"/>
<polyline points="438.2,154.73 442.23,156.16 446.25,157.48 450.28,158.69 454.3,159.82 458.33,160.86 462.36,161.82 466.38,162.73 470.41,163.57 474.43,164.37 478.46,165.12 482.49,165.83 486.51,166.5 490.54,167.13 494.56,167.74 498.59,168.31 502.62,168.86 506.64,169.39 510.67,169.89 514.69,170.38 518.72,170.84 522.75,171.28 526.77,171.71 530.8,172.13 534.82,172.52 538.85,172.91 542.88,173.28 546.9,173.64 550.93,173.99 554.95,174.32 558.98,174.65 563.01,174.96 567.03,175.27 571.06,175.57 575.08,175.86 579.11,176.14 583.14,176.41 587.16,176.68 591.19,176.94 595.21,177.19 599.24,177.44 603.27,177.68 607.29,177.91 611.32,178.14 615.34,178.36 619.37,178.58" stroke-dasharray="6 3.4 0.9 2.4"/>
<polyline points="438.2,175.66 442.23,176.7 446.25,177.6 450.28,178.39 454.3,179.1 458.33,179.74 462.36,180.33 466.38,180.88 470.41,181.38 474.43,181.85 478.46,182.29 482.49,182.71 486.51,183.1 490.54,183.48 494.56,183.83 498.59,184.17 502.62,184.5 506.64,184.81 510.67,185.1 514.69,185.39 518.72,185.67 522.75,185.93 526.77,186.19 530.8,186.44 534.82,186.68 538.85,186.91 542.88,187.14 546.9,187.36 550.93,187.57 554.95,187.78 558.98,187.98 563.01,188.18 567.03,188.37 571.06,188.56 575.08,188.74 579.11,188.92 583.14,189.09 587.16,189.26 591.19,189.43 595.21,189.59 599.24,189.75 603.27,189.91 607.29,190.06 611.32,190.21 615.34,190.36 619.37,190.51" stroke-dasharray="6.3 2.6 0.9 1.2 0.9 2.4"/>
<polyline points="438.2,180.02 442.23,180.83 446.25,181.57 450.28,182.24 454.3,182.87 458.33,183.44 462.36,183.97 466.38,184.47 470.41,184.93 474.43,185.36 478.46,185.77 482.49,186.15 486.51,186.51 490.54,186.85 494.56,187.17 498.59,187.48 502.62,187.77 506.64,188.05 510.67,188.32 514.69,188.57 518.72,188.81 522.75,189.04 526.77,189.27 530.8,189.48 534.82,189.69 538.85,189.88 542.88,190.07 546.9,190.26 550.93,190.43 554.95,190.61 558.98,190.77 563.01,190.93 567.03,191.08 571.06,191.23 575.08,191.38 579.11,191.52 583.14,191.66 587.16,191.79 591.19,191.92 595.21,192.04 599.24,192.16 603.27,192.28 607.29,192.39 611.32,192.5 615.34,192.61 619.37,192.72" stroke-dasharray="6.5 3"/>
</g>
<g stroke="#000" stroke-width="1" fill="none">
<rect x="35.6" y="22.1" width="591.9" height="184.55"/>
<path d="M232.9 22.1V206.65"/>
<path d="M430.2 22.1V206.65"/>
</g>
<g stroke="#1a1a1a" stroke-width="0.8" fill="none">
<path d="M38.5 206.65v-3.3 M38.5 22.1v3.3"/>
<path d="M43.5 206.65v-6.6 M43.5 22.1v6.6"/>
<path d="M48.5 206.65v-3.3 M48.5 22.1v3.3"/>
<path d="M53.5 206.65v-3.3 M53.5 22.1v3.3"/>
<path d="M58.5 206.65v-3.3 M58.5 22.1v3.3"/>
<path d="M63.5 206.65v-6.6 M63.5 22.1v6.6"/>
<path d="M68.5 206.65v-3.3 M68.5 22.1v3.3"/>
<path d="M73.5 206.65v-3.3 M73.5 22.1v3.3"/>
<path d="M78.5 206.65v-3.3 M78.5 22.1v3.3"/>
<path d="M83.5 206.65v-6.6 M83.5 22.1v6.6"/>
<path d="M88.5 206.65v-3.3 M88.5 22.1v3.3"/>
<path d="M93.5 206.65v-3.3 M93.5 22.1v3.3"/>
<path d="M98.5 206.65v-3.3 M98.5 22.1v3.3"/>
<path d="M103.5 206.65v-6.6 M103.5 22.1v6.6"/>
<path d="M109.5 206.65v-3.3 M109.5 22.1v3.3"/>
<path d="M114.5 206.65v-3.3 M114.5 22.1v3.3"/>
<path d="M119.5 206.65v-3.3 M119.5 22.1v3.3"/>
<path d="M124.5 206.65v-6.6 M124.5 22.1v6.6"/>
<path d="M129.5 206.65v-3.3 M129.5 22.1v3.3"/>
<path d="M134.5 206.65v-3.3 M134.5 22.1v3.3"/>
<path d="M139.5 206.65v-3.3 M139.5 22.1v3.3"/>
<path d="M144.5 206.65v-6.6 M144.5 22.1v6.6"/>
<path d="M149.5 206.65v-3.3 M149.5 22.1v3.3"/>
<path d="M154.5 206.65v-3.3 M154.5 22.1v3.3"/>
<path d="M159.5 206.65v-3.3 M159.5 22.1v3.3"/>
<path d="M164.5 206.65v-6.6 M164.5 22.1v6.6"/>
<path d="M169.5 206.65v-3.3 M169.5 22.1v3.3"/>
<path d="M174.5 206.65v-3.3 M174.5 22.1v3.3"/>
<path d="M179.5 206.65v-3.3 M179.5 22.1v3.3"/>
<path d="M184.5 206.65v-6.6 M184.5 22.1v6.6"/>
<path d="M189.5 206.65v-3.3 M189.5 22.1v3.3"/>
<path d="M194.5 206.65v-3.3 M194.5 22.1v3.3"/>
<path d="M199.5 206.65v-3.3 M199.5 22.1v3.3"/>
<path d="M204.5 206.65v-6.6 M204.5 22.1v6.6"/>
<path d="M209.5 206.65v-3.3 M209.5 22.1v3.3"/>
<path d="M214.5 206.65v-3.3 M214.5 22.1v3.3"/>
<path d="M219.5 206.65v-3.3 M219.5 22.1v3.3"/>
<path d="M224.5 206.65v-6.6 M224.5 22.1v6.6"/>
<path d="M229.5 206.65v-3.3 M229.5 22.1v3.3"/>
<path d="M35.6 204.5h3.3 M232.9 204.5h-3.3"/>
<path d="M35.6 201.5h6.6 M232.9 201.5h-6.6"/>
<path d="M35.6 198.5h3.3 M232.9 198.5h-3.3"/>
<path d="M35.6 195.5h3.3 M232.9 195.5h-3.3"/>
<path d="M35.6 192.5h3.3 M232.9 192.5h-3.3"/>
<path d="M35.6 190.5h6.6 M232.9 190.5h-6.6"/>
<path d="M35.6 187.5h3.3 M232.9 187.5h-3.3"/>
<path d="M35.6 184.5h3.3 M232.9 184.5h-3.3"/>
<path d="M35.6 181.5h3.3 M232.9 181.5h-3.3"/>
<path d="M35.6 178.5h6.6 M232.9 178.5h-6.6"/>
<path d="M35.6 176.5h3.3 M232.9 176.5h-3.3"/>
<path d="M35.6 173.5h3.3 M232.9 173.5h-3.3"/>
<path d="M35.6 170.5h3.3 M232.9 170.5h-3.3"/>
<path d="M35.6 167.5h6.6 M232.9 167.5h-6.6"/>
<path d="M35.6 164.5h3.3 M232.9 164.5h-3.3"/>
<path d="M35.6 162.5h3.3 M232.9 162.5h-3.3"/>
<path d="M35.6 159.5h3.3 M232.9 159.5h-3.3"/>
<path d="M35.6 156.5h6.6 M232.9 156.5h-6.6"/>
<path d="M35.6 153.5h3.3 M232.9 153.5h-3.3"/>
<path d="M35.6 150.5h3.3 M232.9 150.5h-3.3"/>
<path d="M35.6 148.5h3.3 M232.9 148.5h-3.3"/>
<path d="M35.6 145.5h6.6 M232.9 145.5h-6.6"/>
<path d="M35.6 142.5h3.3 M232.9 142.5h-3.3"/>
<path d="M35.6 139.5h3.3 M232.9 139.5h-3.3"/>
<path d="M35.6 136.5h3.3 M232.9 136.5h-3.3"/>
<path d="M35.6 134.5h6.6 M232.9 134.5h-6.6"/>
<path d="M35.6 131.5h3.3 M232.9 131.5h-3.3"/>
<path d="M35.6 128.5h3.3 M232.9 128.5h-3.3"/>
<path d="M35.6 125.5h3.3 M232.9 125.5h-3.3"/>
<path d="M35.6 122.5h6.6 M232.9 122.5h-6.6"/>
<path d="M35.6 120.5h3.3 M232.9 120.5h-3.3"/>
<path d="M35.6 117.5h3.3 M232.9 117.5h-3.3"/>
<path d="M35.6 114.5h3.3 M232.9 114.5h-3.3"/>
<path d="M35.6 111.5h6.6 M232.9 111.5h-6.6"/>
<path d="M35.6 108.5h3.3 M232.9 108.5h-3.3"/>
<path d="M35.6 106.5h3.3 M232.9 106.5h-3.3"/>
<path d="M35.6 103.5h3.3 M232.9 103.5h-3.3"/>
<path d="M35.6 100.5h6.6 M232.9 100.5h-6.6"/>
<path d="M35.6 97.5h3.3 M232.9 97.5h-3.3"/>
<path d="M35.6 94.5h3.3 M232.9 94.5h-3.3"/>
<path d="M35.6 92.5h3.3 M232.9 92.5h-3.3"/>
<path d="M35.6 89.5h6.6 M232.9 89.5h-6.6"/>
<path d="M35.6 86.5h3.3 M232.9 86.5h-3.3"/>
<path d="M35.6 83.5h3.3 M232.9 83.5h-3.3"/>
<path d="M35.6 80.5h3.3 M232.9 80.5h-3.3"/>
<path d="M35.6 78.5h6.6 M232.9 78.5h-6.6"/>
<path d="M35.6 75.5h3.3 M232.9 75.5h-3.3"/>
<path d="M35.6 72.5h3.3 M232.9 72.5h-3.3"/>
<path d="M35.6 69.5h3.3 M232.9 69.5h-3.3"/>
<path d="M35.6 66.5h6.6 M232.9 66.5h-6.6"/>
<path d="M35.6 64.5h3.3 M232.9 64.5h-3.3"/>
<path d="M35.6 61.5h3.3 M232.9 61.5h-3.3"/>
<path d="M35.6 58.5h3.3 M232.9 58.5h-3.3"/>
<path d="M35.6 55.5h6.6 M232.9 55.5h-6.6"/>
<path d="M35.6 52.5h3.3 M232.9 52.5h-3.3"/>
<path d="M35.6 50.5h3.3 M232.9 50.5h-3.3"/>
<path d="M35.6 47.5h3.3 M232.9 47.5h-3.3"/>
<path d="M35.6 44.5h6.6 M232.9 44.5h-6.6"/>
<path d="M35.6 41.5h3.3 M232.9 41.5h-3.3"/>
<path d="M35.6 38.5h3.3 M232.9 38.5h-3.3"/>
<path d="M35.6 36.5h3.3 M232.9 36.5h-3.3"/>
<path d="M35.6 33.5h6.6 M232.9 33.5h-6.6"/>
<path d="M35.6 30.5h3.3 M232.9 30.5h-3.3"/>
<path d="M35.6 27.5h3.3 M232.9 27.5h-3.3"/>
<path d="M35.6 24.5h3.3 M232.9 24.5h-3.3"/>
<path d="M235.5 206.65v-3.3 M235.5 22.1v3.3"/>
<path d="M240.5 206.65v-6.6 M240.5 22.1v6.6"/>
<path d="M245.5 206.65v-3.3 M245.5 22.1v3.3"/>
<path d="M250.5 206.65v-3.3 M250.5 22.1v3.3"/>
<path d="M255.5 206.65v-3.3 M255.5 22.1v3.3"/>
<path d="M261.5 206.65v-6.6 M261.5 22.1v6.6"/>
<path d="M266.5 206.65v-3.3 M266.5 22.1v3.3"/>
<path d="M271.5 206.65v-3.3 M271.5 22.1v3.3"/>
<path d="M276.5 206.65v-3.3 M276.5 22.1v3.3"/>
<path d="M281.5 206.65v-6.6 M281.5 22.1v6.6"/>
<path d="M286.5 206.65v-3.3 M286.5 22.1v3.3"/>
<path d="M291.5 206.65v-3.3 M291.5 22.1v3.3"/>
<path d="M296.5 206.65v-3.3 M296.5 22.1v3.3"/>
<path d="M301.5 206.65v-6.6 M301.5 22.1v6.6"/>
<path d="M306.5 206.65v-3.3 M306.5 22.1v3.3"/>
<path d="M311.5 206.65v-3.3 M311.5 22.1v3.3"/>
<path d="M316.5 206.65v-3.3 M316.5 22.1v3.3"/>
<path d="M321.5 206.65v-6.6 M321.5 22.1v6.6"/>
<path d="M326.5 206.65v-3.3 M326.5 22.1v3.3"/>
<path d="M331.5 206.65v-3.3 M331.5 22.1v3.3"/>
<path d="M336.5 206.65v-3.3 M336.5 22.1v3.3"/>
<path d="M341.5 206.65v-6.6 M341.5 22.1v6.6"/>
<path d="M346.5 206.65v-3.3 M346.5 22.1v3.3"/>
<path d="M351.5 206.65v-3.3 M351.5 22.1v3.3"/>
<path d="M356.5 206.65v-3.3 M356.5 22.1v3.3"/>
<path d="M361.5 206.65v-6.6 M361.5 22.1v6.6"/>
<path d="M366.5 206.65v-3.3 M366.5 22.1v3.3"/>
<path d="M371.5 206.65v-3.3 M371.5 22.1v3.3"/>
<path d="M376.5 206.65v-3.3 M376.5 22.1v3.3"/>
<path d="M381.5 206.65v-6.6 M381.5 22.1v6.6"/>
<path d="M386.5 206.65v-3.3 M386.5 22.1v3.3"/>
<path d="M391.5 206.65v-3.3 M391.5 22.1v3.3"/>
<path d="M396.5 206.65v-3.3 M396.5 22.1v3.3"/>
<path d="M401.5 206.65v-6.6 M401.5 22.1v6.6"/>
<path d="M406.5 206.65v-3.3 M406.5 22.1v3.3"/>
<path d="M412.5 206.65v-3.3 M412.5 22.1v3.3"/>
<path d="M417.5 206.65v-3.3 M417.5 22.1v3.3"/>
<path d="M422.5 206.65v-6.6 M422.5 22.1v6.6"/>
<path d="M427.5 206.65v-3.3 M427.5 22.1v3.3"/>
<path d="M232.9 204.5h3.3 M430.2 204.5h-3.3"/>
<path d="M232.9 201.5h6.6 M430.2 201.5h-6.6"/>
<path d="M232.9 198.5h3.3 M430.2 198.5h-3.3"/>
<path d="M232.9 195.5h3.3 M430.2 195.5h-3.3"/>
<path d="M232.9 192.5h3.3 M430.2 192.5h-3.3"/>
<path d="M232.9 190.5h6.6 M430.2 190.5h-6.6"/>
<path d="M232.9 187.5h3.3 M430.2 187.5h-3.3"/>
<path d="M232.9 184.5h3.3 M430.2 184.5h-3.3"/>
<path d="M232.9 181.5h3.3 M430.2 181.5h-3.3"/>
<path d="M232.9 178.5h6.6 M430.2 178.5h-6.6"/>
<path d="M232.9 176.5h3.3 M430.2 176.5h-3.3"/>
<path d="M232.9 173.5h3.3 M430.2 173.5h-3.3"/>
<path d="M232.9 170.5h3.3 M430.2 170.5h-3.3"/>
<path d="M232.9 167.5h6.6 M430.2 167.5h-6.6"/>
<path d="M232.9 164.5h3.3 M430.2 164.5h-3.3"/>
<path d="M232.9 162.5h3.3 M430.2 162.5h-3.3"/>
<path d="M232.9 159.5h3.3 M430.2 159.5h-3.3"/>
<path d="M232.9 156.5h6.6 M430.2 156.5h-6.6"/>
<path d="M232.9 153.5h3.3 M430.2 153.5h-3.3"/>
<path d="M232.9 150.5h3.3 M430.2 150.5h-3.3"/>
<path d="M232.9 148.5h3.3 M430.2 148.5h-3.3"/>
<path d="M232.9 145.5h6.6 M430.2 145.5h-6.6"/>
<path d="M232.9 142.5h3.3 M430.2 142.5h-3.3"/>
<path d="M232.9 139.5h3.3 M430.2 139.5h-3.3"/>
<path d="M232.9 136.5h3.3 M430.2 136.5h-3.3"/>
<path d="M232.9 134.5h6.6 M430.2 134.5h-6.6"/>
<path d="M232.9 131.5h3.3 M430.2 131.5h-3.3"/>
<path d="M232.9 128.5h3.3 M430.2 128.5h-3.3"/>
<path d="M232.9 125.5h3.3 M430.2 125.5h-3.3"/>
<path d="M232.9 122.5h6.6 M430.2 122.5h-6.6"/>
<path d="M232.9 120.5h3.3 M430.2 120.5h-3.3"/>
<path d="M232.9 117.5h3.3 M430.2 117.5h-3.3"/>
<path d="M232.9 114.5h3.3 M430.2 114.5h-3.3"/>
<path d="M232.9 111.5h6.6 M430.2 111.5h-6.6"/>
<path d="M232.9 108.5h3.3 M430.2 108.5h-3.3"/>
<path d="M232.9 106.5h3.3 M430.2 106.5h-3.3"/>
<path d="M232.9 103.5h3.3 M430.2 103.5h-3.3"/>
<path d="M232.9 100.5h6.6 M430.2 100.5h-6.6"/>
<path d="M232.9 97.5h3.3 M430.2 97.5h-3.3"/>
<path d="M232.9 94.5h3.3 M430.2 94.5h-3.3"/>
<path d="M232.9 92.5h3.3 M430.2 92.5h-3.3"/>
<path d="M232.9 89.5h6.6 M430.2 89.5h-6.6"/>
<path d="M232.9 86.5h3.3 M430.2 86.5h-3.3"/>
<path d="M232.9 83.5h3.3 M430.2 83.5h-3.3"/>
<path d="M232.9 80.5h3.3 M430.2 80.5h-3.3"/>
<path d="M232.9 78.5h6.6 M430.2 78.5h-6.6"/>
<path d="M232.9 75.5h3.3 M430.2 75.5h-3.3"/>
<path d="M232.9 72.5h3.3 M430.2 72.5h-3.3"/>
<path d="M232.9 69.5h3.3 M430.2 69.5h-3.3"/>
<path d="M232.9 66.5h6.6 M430.2 66.5h-6.6"/>
<path d="M232.9 64.5h3.3 M430.2 64.5h-3.3"/>
<path d="M232.9 61.5h3.3 M430.2 61.5h-3.3"/>
<path d="M232.9 58.5h3.3 M430.2 58.5h-3.3"/>
<path d="M232.9 55.5h6.6 M430.2 55.5h-6.6"/>
<path d="M232.9 52.5h3.3 M430.2 52.5h-3.3"/>
<path d="M232.9 50.5h3.3 M430.2 50.5h-3.3"/>
<path d="M232.9 47.5h3.3 M430.2 47.5h-3.3"/>
<path d="M232.9 44.5h6.6 M430.2 44.5h-6.6"/>
<path d="M232.9 41.5h3.3 M430.2 41.5h-3.3"/>
<path d="M232.9 38.5h3.3 M430.2 38.5h-3.3"/>
<path d="M232.9 36.5h3.3 M430.2 36.5h-3.3"/>
<path d="M232.9 33.5h6.6 M430.2 33.5h-6.6"/>
<path d="M232.9 30.5h3.3 M430.2 30.5h-3.3"/>
<path d="M232.9 27.5h3.3 M430.2 27.5h-3.3"/>
<path d="M232.9 24.5h3.3 M430.2 24.5h-3.3"/>
<path d="M433.5 206.65v-3.3 M433.5 22.1v3.3"/>
<path d="M438.5 206.65v-6.6 M438.5 22.1v6.6"/>
<path d="M443.5 206.65v-3.3 M443.5 22.1v3.3"/>
<path d="M448.5 206.65v-3.3 M448.5 22.1v3.3"/>
<path d="M453.5 206.65v-3.3 M453.5 22.1v3.3"/>
<path d="M458.5 206.65v-6.6 M458.5 22.1v6.6"/>
<path d="M463.5 206.65v-3.3 M463.5 22.1v3.3"/>
<path d="M468.5 206.65v-3.3 M468.5 22.1v3.3"/>
<path d="M473.5 206.65v-3.3 M473.5 22.1v3.3"/>
<path d="M478.5 206.65v-6.6 M478.5 22.1v6.6"/>
<path d="M483.5 206.65v-3.3 M483.5 22.1v3.3"/>
<path d="M488.5 206.65v-3.3 M488.5 22.1v3.3"/>
<path d="M493.5 206.65v-3.3 M493.5 22.1v3.3"/>
<path d="M498.5 206.65v-6.6 M498.5 22.1v6.6"/>
<path d="M503.5 206.65v-3.3 M503.5 22.1v3.3"/>
<path d="M508.5 206.65v-3.3 M508.5 22.1v3.3"/>
<path d="M513.5 206.65v-3.3 M513.5 22.1v3.3"/>
<path d="M518.5 206.65v-6.6 M518.5 22.1v6.6"/>
<path d="M523.5 206.65v-3.3 M523.5 22.1v3.3"/>
<path d="M528.5 206.65v-3.3 M528.5 22.1v3.3"/>
<path d="M533.5 206.65v-3.3 M533.5 22.1v3.3"/>
<path d="M538.5 206.65v-6.6 M538.5 22.1v6.6"/>
<path d="M543.5 206.65v-3.3 M543.5 22.1v3.3"/>
<path d="M548.5 206.65v-3.3 M548.5 22.1v3.3"/>
<path d="M553.5 206.65v-3.3 M553.5 22.1v3.3"/>
<path d="M558.5 206.65v-6.6 M558.5 22.1v6.6"/>
<path d="M564.5 206.65v-3.3 M564.5 22.1v3.3"/>
<path d="M569.5 206.65v-3.3 M569.5 22.1v3.3"/>
<path d="M574.5 206.65v-3.3 M574.5 22.1v3.3"/>
<path d="M579.5 206.65v-6.6 M579.5 22.1v6.6"/>
<path d="M584.5 206.65v-3.3 M584.5 22.1v3.3"/>
<path d="M589.5 206.65v-3.3 M589.5 22.1v3.3"/>
<path d="M594.5 206.65v-3.3 M594.5 22.1v3.3"/>
<path d="M599.5 206.65v-6.6 M599.5 22.1v6.6"/>
<path d="M604.5 206.65v-3.3 M604.5 22.1v3.3"/>
<path d="M609.5 206.65v-3.3 M609.5 22.1v3.3"/>
<path d="M614.5 206.65v-3.3 M614.5 22.1v3.3"/>
<path d="M619.5 206.65v-6.6 M619.5 22.1v6.6"/>
<path d="M624.5 206.65v-3.3 M624.5 22.1v3.3"/>
<path d="M430.2 204.5h3.3 M627.5 204.5h-3.3"/>
<path d="M430.2 201.5h6.6 M627.5 201.5h-6.6"/>
<path d="M430.2 198.5h3.3 M627.5 198.5h-3.3"/>
<path d="M430.2 195.5h3.3 M627.5 195.5h-3.3"/>
<path d="M430.2 192.5h3.3 M627.5 192.5h-3.3"/>
<path d="M430.2 190.5h6.6 M627.5 190.5h-6.6"/>
<path d="M430.2 187.5h3.3 M627.5 187.5h-3.3"/>
<path d="M430.2 184.5h3.3 M627.5 184.5h-3.3"/>
<path d="M430.2 181.5h3.3 M627.5 181.5h-3.3"/>
<path d="M430.2 178.5h6.6 M627.5 178.5h-6.6"/>
<path d="M430.2 176.5h3.3 M627.5 176.5h-3.3"/>
<path d="M430.2 173.5h3.3 M627.5 173.5h-3.3"/>
<path d="M430.2 170.5h3.3 M627.5 170.5h-3.3"/>
<path d="M430.2 167.5h6.6 M627.5 167.5h-6.6"/>
<path d="M430.2 164.5h3.3 M627.5 164.5h-3.3"/>
<path d="M430.2 162.5h3.3 M627.5 162.5h-3.3"/>
<path d="M430.2 159.5h3.3 M627.5 159.5h-3.3"/>
<path d="M430.2 156.5h6.6 M627.5 156.5h-6.6"/>
<path d="M430.2 153.5h3.3 M627.5 153.5h-3.3"/>
<path d="M430.2 150.5h3.3 M627.5 150.5h-3.3"/>
<path d="M430.2 148.5h3.3 M627.5 148.5h-3.3"/>
<path d="M430.2 145.5h6.6 M627.5 145.5h-6.6"/>
<path d="M430.2 142.5h3.3 M627.5 142.5h-3.3"/>
<path d="M430.2 139.5h3.3 M627.5 139.5h-3.3"/>
<path d="M430.2 136.5h3.3 M627.5 136.5h-3.3"/>
<path d="M430.2 134.5h6.6 M627.5 134.5h-6.6"/>
<path d="M430.2 131.5h3.3 M627.5 131.5h-3.3"/>
<path d="M430.2 128.5h3.3 M627.5 128.5h-3.3"/>
<path d="M430.2 125.5h3.3 M627.5 125.5h-3.3"/>
<path d="M430.2 122.5h6.6 M627.5 122.5h-6.6"/>
<path d="M430.2 120.5h3.3 M627.5 120.5h-3.3"/>
<path d="M430.2 117.5h3.3 M627.5 117.5h-3.3"/>
<path d="M430.2 114.5h3.3 M627.5 114.5h-3.3"/>
<path d="M430.2 111.5h6.6 M627.5 111.5h-6.6"/>
<path d="M430.2 108.5h3.3 M627.5 108.5h-3.3"/>
<path d="M430.2 106.5h3.3 M627.5 106.5h-3.3"/>
<path d="M430.2 103.5h3.3 M627.5 103.5h-3.3"/>
<path d="M430.2 100.5h6.6 M627.5 100.5h-6.6"/>
<path d="M430.2 97.5h3.3 M627.5 97.5h-3.3"/>
<path d="M430.2 94.5h3.3 M627.5 94.5h-3.3"/>
<path d="M430.2 92.5h3.3 M627.5 92.5h-3.3"/>
<path d="M430.2 89.5h6.6 M627.5 89.5h-6.6"/>
<path d="M430.2 86.5h3.3 M627.5 86.5h-3.3"/>
<path d="M430.2 83.5h3.3 M627.5 83.5h-3.3"/>
<path d="M430.2 80.5h3.3 M627.5 80.5h-3.3"/>
<path d="M430.2 78.5h6.6 M627.5 78.5h-6.6"/>
<path d="M430.2 75.5h3.3 M627.5 75.5h-3.3"/>
<path d="M430.2 72.5h3.3 M627.5 72.5h-3.3"/>
<path d="M430.2 69.5h3.3 M627.5 69.5h-3.3"/>
<path d="M430.2 66.5h6.6 M627.5 66.5h-6.6"/>
<path d="M430.2 64.5h3.3 M627.5 64.5h-3.3"/>
<path d="M430.2 61.5h3.3 M627.5 61.5h-3.3"/>
<path d="M430.2 58.5h3.3 M627.5 58.5h-3.3"/>
<path d="M430.2 55.5h6.6 M627.5 55.5h-6.6"/>
<path d="M430.2 52.5h3.3 M627.5 52.5h-3.3"/>
<path d="M430.2 50.5h3.3 M627.5 50.5h-3.3"/>
<path d="M430.2 47.5h3.3 M627.5 47.5h-3.3"/>
<path d="M430.2 44.5h6.6 M627.5 44.5h-6.6"/>
<path d="M430.2 41.5h3.3 M627.5 41.5h-3.3"/>
<path d="M430.2 38.5h3.3 M627.5 38.5h-3.3"/>
<path d="M430.2 36.5h3.3 M627.5 36.5h-3.3"/>
<path d="M430.2 33.5h6.6 M627.5 33.5h-6.6"/>
<path d="M430.2 30.5h3.3 M627.5 30.5h-3.3"/>
<path d="M430.2 27.5h3.3 M627.5 27.5h-3.3"/>
<path d="M430.2 24.5h3.3 M627.5 24.5h-3.3"/>
</g>
<g font-size="9.5">
<text x="29.6" y="204.8" text-anchor="end">0</text>
<text x="29.6" y="193.6" text-anchor="end">0.1</text>
<text x="29.6" y="182.4" text-anchor="end">0.2</text>
<text x="29.6" y="171.2" text-anchor="end">0.3</text>
<text x="29.6" y="160" text-anchor="end">0.4</text>
<text x="29.6" y="148.8" text-anchor="end">0.5</text>
<text x="29.6" y="137.6" text-anchor="end">0.6</text>
<text x="29.6" y="126.4" text-anchor="end">0.7</text>
<text x="29.6" y="115.2" text-anchor="end">0.8</text>
<text x="29.6" y="104" text-anchor="end">0.9</text>
<text x="29.6" y="92.8" text-anchor="end">1</text>
<text x="29.6" y="81.6" text-anchor="end">1.1</text>
<text x="29.6" y="70.4" text-anchor="end">1.2</text>
<text x="29.6" y="59.2" text-anchor="end">1.3</text>
<text x="29.6" y="48" text-anchor="end">1.4</text>
<text x="29.6" y="36.8" text-anchor="end">1.5</text>
<text x="29.6" y="25.6" text-anchor="end">1.6</text>
<text x="44.9" y="220.3" text-anchor="middle">1</text>
<text x="65.03" y="220.3" text-anchor="middle">2</text>
<text x="85.16" y="220.3" text-anchor="middle">3</text>
<text x="105.29" y="220.3" text-anchor="middle">4</text>
<text x="125.42" y="220.3" text-anchor="middle">5</text>
<text x="145.55" y="220.3" text-anchor="middle">6</text>
<text x="165.68" y="220.3" text-anchor="middle">7</text>
<text x="185.81" y="220.3" text-anchor="middle">8</text>
<text x="205.94" y="220.3" text-anchor="middle">9</text>
<text x="226.07" y="220.3" text-anchor="middle">10</text>
<text x="242.2" y="220.3" text-anchor="middle">1</text>
<text x="262.33" y="220.3" text-anchor="middle">2</text>
<text x="282.46" y="220.3" text-anchor="middle">3</text>
<text x="302.59" y="220.3" text-anchor="middle">4</text>
<text x="322.72" y="220.3" text-anchor="middle">5</text>
<text x="342.85" y="220.3" text-anchor="middle">6</text>
<text x="362.98" y="220.3" text-anchor="middle">7</text>
<text x="383.11" y="220.3" text-anchor="middle">8</text>
<text x="403.24" y="220.3" text-anchor="middle">9</text>
<text x="423.37" y="220.3" text-anchor="middle">10</text>
<text x="439.5" y="220.3" text-anchor="middle">1</text>
<text x="459.63" y="220.3" text-anchor="middle">2</text>
<text x="479.76" y="220.3" text-anchor="middle">3</text>
<text x="499.89" y="220.3" text-anchor="middle">4</text>
<text x="520.02" y="220.3" text-anchor="middle">5</text>
<text x="540.15" y="220.3" text-anchor="middle">6</text>
<text x="560.28" y="220.3" text-anchor="middle">7</text>
<text x="580.41" y="220.3" text-anchor="middle">8</text>
<text x="600.54" y="220.3" text-anchor="middle">9</text>
<text x="620.67" y="220.3" text-anchor="middle">10</text>
</g>
<g font-size="11.5">
<text x="134.75" y="234.5" text-anchor="middle">n</text>
<text x="332.05" y="234.5" text-anchor="middle">n</text>
<text x="529.35" y="234.5" text-anchor="middle">n</text>
<text transform="translate(9.4 113.8) rotate(-90)" text-anchor="middle" textLength="80" lengthAdjust="spacingAndGlyphs">dN<tspan font-size="9.2" dy="2.6">g</tspan><tspan dy="-2.6">/dy/dN</tspan><tspan font-size="9.2" dy="2.6">c+g</tspan><tspan dy="-2.6">/dy</tspan></text>
</g>
<text x="36" y="16.2" font-size="11.3" textLength="389.3" lengthAdjust="spacingAndGlyphs">D<tspan font-size="9" dy="-5">0</tspan><tspan dy="5"> (4.0 &lt; p</tspan><tspan font-size="9" dy="3.3">T</tspan><tspan dy="-3.3"> &lt; 12.0 GeV), pp production at 13 TeV, BKK05, gluon/(charm+gluon)</tspan></text>
<g font-size="10.2">
<text x="43.8" y="88.3">g1.101 (MV)</text>
<text x="241.1" y="88.3">g1.118 (MV)</text>
<text x="438.4" y="88.3">g1 (GBW)</text>
</g>
<g font-size="8.9">
<text x="105" y="39.95" text-anchor="end">CTEQ6.5 no IC</text>
<text x="105" y="49.3" text-anchor="end">CTEQ6.5 BHPS</text>
<text x="105" y="59.1" text-anchor="end">CTEQ6.5 MC</text>
<text x="105" y="68.1" text-anchor="end">CT14 no IC</text>
</g>
<g stroke="#b04de0" stroke-width="1" fill="none">
<path d="M109 36.25h20.2" stroke-dasharray="3.2 2.8"/>
<path d="M109 45.6h20.2" stroke-dasharray="6.5 3"/>
<path d="M109 55.4h20.2" stroke-dasharray="6 3.4 0.9 2.4"/>
<path d="M109 64.4h20.2" stroke-dasharray="6.3 2.6 0.9 1.2 0.9 2.4"/>
</g>
<g stroke="#40b696" stroke-width="1" fill="none">
<path d="M132.6 36.25h20.2" stroke-dasharray="3.2 2.8"/>
<path d="M132.6 45.6h20.2" stroke-dasharray="6.5 3"/>
<path d="M132.6 55.4h20.2" stroke-dasharray="6 3.4 0.9 2.4"/>
<path d="M132.6 64.4h20.2" stroke-dasharray="6.3 2.6 0.9 1.2 0.9 2.4"/>
</g>
<g stroke="#ecb740" stroke-width="1" fill="none">
<path d="M155.9 36.25h20.2" stroke-dasharray="6.5 3"/>
<path d="M155.9 45.6h20.2" stroke-dasharray="6 3.4 0.9 2.4"/>
<path d="M155.9 55.4h20.2" stroke-dasharray="6.3 2.6 0.9 1.2 0.9 2.4"/>
<path d="M155.9 64.4h20.2" stroke-dasharray="3.2 2.8"/>
</g>
<g stroke="#4095d0" stroke-width="1" fill="none">
<path d="M178.9 36.25h20.2" stroke-dasharray="3.2 2.8"/>
<path d="M178.9 45.6h20.2" stroke-dasharray="6.5 3"/>
<path d="M178.9 55.4h20.2" stroke-dasharray="6 3.4 0.9 2.4"/>
<path d="M178.9 64.4h20.2" stroke-dasharray="6.3 2.6 0.9 1.2 0.9 2.4"/>
</g>
<g stroke="#ec5648" stroke-width="1" fill="none">
<path d="M202.2 36.25h20.2" stroke-dasharray="3.2 2.8"/>
<path d="M202.2 45.6h20.2" stroke-dasharray="6.5 3"/>
<path d="M202.2 55.4h20.2" stroke-dasharray="6 3.4 0.9 2.4"/>
<path d="M202.2 64.4h20.2" stroke-dasharray="6.3 2.6 0.9 1.2 0.9 2.4"/>
</g>
<g font-size="8.8">
<text x="108.5" y="75">y = 2</text>
<text x="133" y="75">y = 3</text>
<text x="156" y="75">y = 4</text>
<text x="179.4" y="75">y = 5</text>
<text x="201.9" y="75">y = 6</text>
</g>
</svg></body></html>
